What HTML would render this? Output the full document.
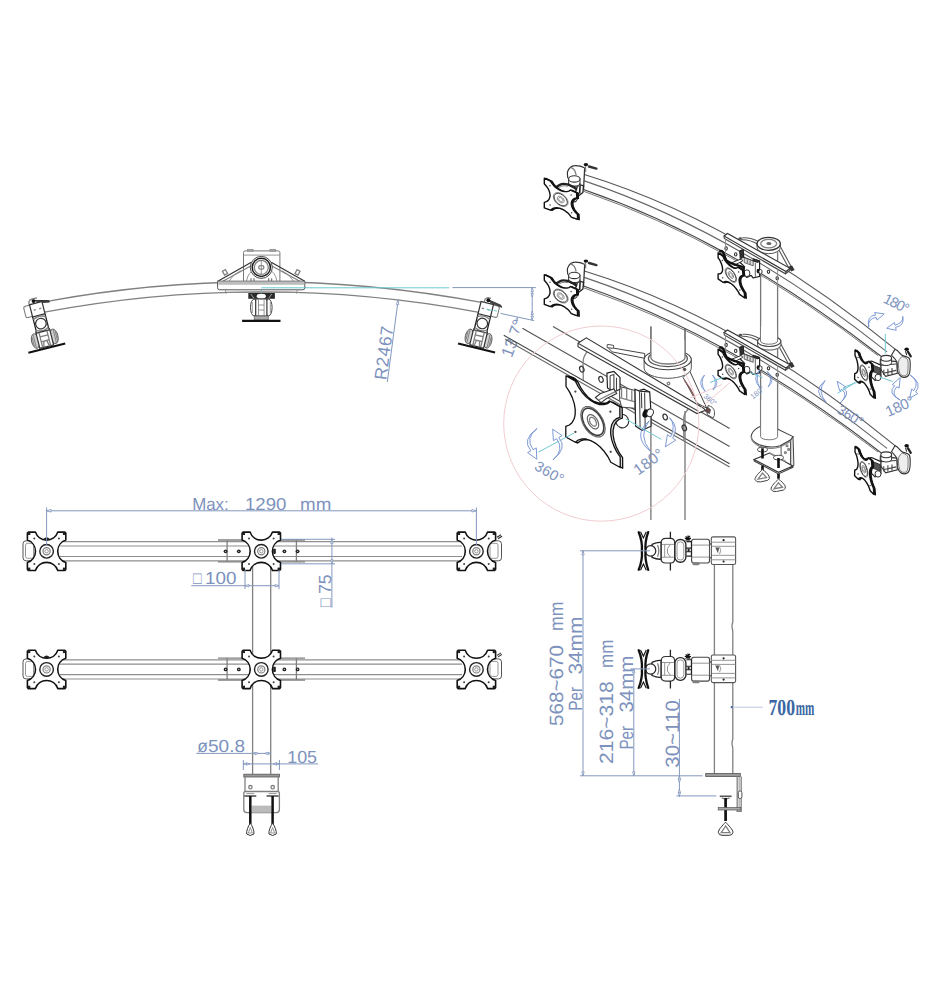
<!DOCTYPE html>
<html lang="en"><head><meta charset="utf-8"><title>Six monitor mount - dimensions</title>
<style>
html,body{margin:0;padding:0;background:#fff}
body{width:939px;height:1000px;overflow:hidden;font-family:"Liberation Sans",sans-serif}
svg{display:block}
text{text-rendering:geometricPrecision}
.k{fill:none;stroke:#2a2a2a;stroke-width:1.1}
.k2{fill:none;stroke:#111;stroke-width:1.6;stroke-linejoin:round}
.kw{fill:#fff;stroke:#111;stroke-width:1.6;stroke-linejoin:round}
.g{fill:none;stroke:#808080;stroke-width:1.3}
.gb{fill:none;stroke:#8e8e8e;stroke-width:1.2}
.gl{fill:none;stroke:#8a8a8a;stroke-width:0.9}
.gw{fill:#fff;stroke:#555;stroke-width:1}
.b{fill:none;stroke:#8497bd;stroke-width:1}
.c{fill:none;stroke:#6fc8d2;stroke-width:1}
.p{fill:none;stroke:#f1cdd1;stroke-width:1}
.ah{fill:#fff;stroke:#7f93bb;stroke-width:0.8}
.dt{fill:#7d92bd;font-family:"Liberation Sans",sans-serif}
.ds{fill:#3a66a3;font-family:"Liberation Serif",serif;font-weight:bold}
.f{fill:#222;stroke:none}
.fg{fill:#bbb;stroke:none}
</style></head>
<body>
<svg width="939" height="1000" viewBox="0 0 939 1000">
<rect width="939" height="1000" fill="#fff"/>
<g>
<g id="front-view">
<line x1="60.0" y1="541.7" x2="462.0" y2="541.7" class="gb"/>
<line x1="60.0" y1="546.0" x2="462.0" y2="546.0" class="gb"/>
<line x1="60.0" y1="556.5" x2="462.0" y2="556.5" class="gb"/>
<line x1="60.0" y1="560.9" x2="462.0" y2="560.9" class="gb"/>
<rect x="23" y="540.8" width="14" height="20" rx="3" class="gw"/>
<rect x="25.5" y="543.3" width="8" height="15" rx="2" class="gl"/>
<rect x="486" y="540.8" width="15.5" height="20" rx="3" class="gw"/>
<rect x="490" y="543.3" width="8" height="15" rx="2" class="gl"/>
<path d="M497,537.3 l4,-2.5 M498,538.8 l4,-2.5" class="k"/>
<line x1="218.0" y1="540.0" x2="305.0" y2="540.0" class="g"/>
<line x1="218.0" y1="561.9" x2="305.0" y2="561.9" class="g"/>
<line x1="227.1" y1="540.0" x2="227.1" y2="561.9" class="g"/>
<line x1="296.4" y1="540.0" x2="296.4" y2="561.9" class="g"/>
<circle cx="225.6" cy="551.3" r="1.9" class="f"/>
<circle cx="225.6" cy="551.3" r="0.6" fill="#ccc"/>
<circle cx="238.8" cy="551.3" r="1.9" class="f"/>
<circle cx="238.8" cy="551.3" r="0.6" fill="#ccc"/>
<circle cx="284.4" cy="551.3" r="1.9" class="f"/>
<circle cx="284.4" cy="551.3" r="0.6" fill="#ccc"/>
<circle cx="297.6" cy="551.3" r="1.9" class="f"/>
<circle cx="297.6" cy="551.3" r="0.6" fill="#ccc"/>
<line x1="60.0" y1="659.8" x2="462.0" y2="659.8" class="gb"/>
<line x1="60.0" y1="664.1" x2="462.0" y2="664.1" class="gb"/>
<line x1="60.0" y1="674.6" x2="462.0" y2="674.6" class="gb"/>
<line x1="60.0" y1="679.0" x2="462.0" y2="679.0" class="gb"/>
<rect x="23" y="658.9" width="14" height="20" rx="3" class="gw"/>
<rect x="25.5" y="661.4" width="8" height="15" rx="2" class="gl"/>
<rect x="486" y="658.9" width="15.5" height="20" rx="3" class="gw"/>
<rect x="490" y="661.4" width="8" height="15" rx="2" class="gl"/>
<path d="M497,655.4 l4,-2.5 M498,656.9 l4,-2.5" class="k"/>
<line x1="218.0" y1="658.1" x2="305.0" y2="658.1" class="g"/>
<line x1="218.0" y1="680.0" x2="305.0" y2="680.0" class="g"/>
<line x1="227.1" y1="658.1" x2="227.1" y2="680.0" class="g"/>
<line x1="296.4" y1="658.1" x2="296.4" y2="680.0" class="g"/>
<circle cx="225.6" cy="669.4" r="1.9" class="f"/>
<circle cx="225.6" cy="669.4" r="0.6" fill="#ccc"/>
<circle cx="238.8" cy="669.4" r="1.9" class="f"/>
<circle cx="238.8" cy="669.4" r="0.6" fill="#ccc"/>
<circle cx="284.4" cy="669.4" r="1.9" class="f"/>
<circle cx="284.4" cy="669.4" r="0.6" fill="#ccc"/>
<circle cx="297.6" cy="669.4" r="1.9" class="f"/>
<circle cx="297.6" cy="669.4" r="0.6" fill="#ccc"/>
<line x1="252.6" y1="565.0" x2="252.6" y2="655.0" class="g"/>
<line x1="270.7" y1="565.0" x2="270.7" y2="655.0" class="g"/>
<line x1="252.6" y1="684.0" x2="252.6" y2="774.0" class="g"/>
<line x1="270.7" y1="684.0" x2="270.7" y2="774.0" class="g"/>
<g transform="translate(46.6,551.3)"><path d="M-19.2,-18.2 L-18.2,-19.2 L-11.2,-19.2 A11.8,11.8 0 0 0 11.2,-19.2 L18.2,-19.2 L19.2,-18.2 L19.2,-11.2 A11.8,11.8 0 0 0 19.2,11.2 L19.2,18.2 L18.2,19.2 L11.2,19.2 A11.8,11.8 0 0 0 -11.2,19.2 L-18.2,19.2 L-19.2,18.2 L-19.2,11.2 A11.8,11.8 0 0 0 -19.2,-11.2 Z" class="kw"/><circle r="6.8" class="k" style="stroke-width:1.4;stroke:#222"/><circle r="3.6" class="g" style="stroke-width:1.2"/><circle r="1.7" class="gl"/><circle cx="-12.3" cy="-12.8" r="1.0" class="f" style="fill:#444"/><rect x="-18.900000000000002" y="-18.900000000000002" width="2.6" height="2.6" class="f"/><circle cx="-12.3" cy="12.8" r="1.0" class="f" style="fill:#444"/><rect x="-18.900000000000002" y="16.3" width="2.6" height="2.6" class="f"/><circle cx="12.3" cy="-12.8" r="1.0" class="f" style="fill:#444"/><rect x="16.3" y="-18.900000000000002" width="2.6" height="2.6" class="f"/><circle cx="12.3" cy="12.8" r="1.0" class="f" style="fill:#444"/><rect x="16.3" y="16.3" width="2.6" height="2.6" class="f"/></g>
<g transform="translate(261.3,551.3)"><path d="M-19.2,-18.2 L-18.2,-19.2 L-11.2,-19.2 A11.8,11.8 0 0 0 11.2,-19.2 L18.2,-19.2 L19.2,-18.2 L19.2,-11.2 A11.8,11.8 0 0 0 19.2,11.2 L19.2,18.2 L18.2,19.2 L11.2,19.2 A11.8,11.8 0 0 0 -11.2,19.2 L-18.2,19.2 L-19.2,18.2 L-19.2,11.2 A11.8,11.8 0 0 0 -19.2,-11.2 Z" class="kw"/><circle r="6.8" class="k" style="stroke-width:1.4;stroke:#222"/><circle r="3.6" class="g" style="stroke-width:1.2"/><circle r="1.7" class="gl"/><circle cx="-12.3" cy="-12.8" r="1.0" class="f" style="fill:#444"/><rect x="-18.900000000000002" y="-18.900000000000002" width="2.6" height="2.6" class="f"/><circle cx="-12.3" cy="12.8" r="1.0" class="f" style="fill:#444"/><rect x="-18.900000000000002" y="16.3" width="2.6" height="2.6" class="f"/><circle cx="12.3" cy="-12.8" r="1.0" class="f" style="fill:#444"/><rect x="16.3" y="-18.900000000000002" width="2.6" height="2.6" class="f"/><circle cx="12.3" cy="12.8" r="1.0" class="f" style="fill:#444"/><rect x="16.3" y="16.3" width="2.6" height="2.6" class="f"/></g>
<g transform="translate(476.4,551.3)"><path d="M-19.2,-18.2 L-18.2,-19.2 L-11.2,-19.2 A11.8,11.8 0 0 0 11.2,-19.2 L18.2,-19.2 L19.2,-18.2 L19.2,-11.2 A11.8,11.8 0 0 0 19.2,11.2 L19.2,18.2 L18.2,19.2 L11.2,19.2 A11.8,11.8 0 0 0 -11.2,19.2 L-18.2,19.2 L-19.2,18.2 L-19.2,11.2 A11.8,11.8 0 0 0 -19.2,-11.2 Z" class="kw"/><circle r="6.8" class="k" style="stroke-width:1.4;stroke:#222"/><circle r="3.6" class="g" style="stroke-width:1.2"/><circle r="1.7" class="gl"/><circle cx="-12.3" cy="-12.8" r="1.0" class="f" style="fill:#444"/><rect x="-18.900000000000002" y="-18.900000000000002" width="2.6" height="2.6" class="f"/><circle cx="-12.3" cy="12.8" r="1.0" class="f" style="fill:#444"/><rect x="-18.900000000000002" y="16.3" width="2.6" height="2.6" class="f"/><circle cx="12.3" cy="-12.8" r="1.0" class="f" style="fill:#444"/><rect x="16.3" y="-18.900000000000002" width="2.6" height="2.6" class="f"/><circle cx="12.3" cy="12.8" r="1.0" class="f" style="fill:#444"/><rect x="16.3" y="16.3" width="2.6" height="2.6" class="f"/></g>
<rect x="273.2" y="548.6999999999999" width="2.6" height="5.2" rx="0.8" class="f"/>
<path d="M43.3,539.0999999999999 q3.3,-3.6 6.6,0 q-3.3,2.2 -6.6,0z" class="f"/>
<g transform="translate(46.6,669.4)"><path d="M-19.2,-18.2 L-18.2,-19.2 L-11.2,-19.2 A11.8,11.8 0 0 0 11.2,-19.2 L18.2,-19.2 L19.2,-18.2 L19.2,-11.2 A11.8,11.8 0 0 0 19.2,11.2 L19.2,18.2 L18.2,19.2 L11.2,19.2 A11.8,11.8 0 0 0 -11.2,19.2 L-18.2,19.2 L-19.2,18.2 L-19.2,11.2 A11.8,11.8 0 0 0 -19.2,-11.2 Z" class="kw"/><circle r="6.8" class="k" style="stroke-width:1.4;stroke:#222"/><circle r="3.6" class="g" style="stroke-width:1.2"/><circle r="1.7" class="gl"/><circle cx="-12.3" cy="-12.8" r="1.0" class="f" style="fill:#444"/><rect x="-18.900000000000002" y="-18.900000000000002" width="2.6" height="2.6" class="f"/><circle cx="-12.3" cy="12.8" r="1.0" class="f" style="fill:#444"/><rect x="-18.900000000000002" y="16.3" width="2.6" height="2.6" class="f"/><circle cx="12.3" cy="-12.8" r="1.0" class="f" style="fill:#444"/><rect x="16.3" y="-18.900000000000002" width="2.6" height="2.6" class="f"/><circle cx="12.3" cy="12.8" r="1.0" class="f" style="fill:#444"/><rect x="16.3" y="16.3" width="2.6" height="2.6" class="f"/></g>
<g transform="translate(261.3,669.4)"><path d="M-19.2,-18.2 L-18.2,-19.2 L-11.2,-19.2 A11.8,11.8 0 0 0 11.2,-19.2 L18.2,-19.2 L19.2,-18.2 L19.2,-11.2 A11.8,11.8 0 0 0 19.2,11.2 L19.2,18.2 L18.2,19.2 L11.2,19.2 A11.8,11.8 0 0 0 -11.2,19.2 L-18.2,19.2 L-19.2,18.2 L-19.2,11.2 A11.8,11.8 0 0 0 -19.2,-11.2 Z" class="kw"/><circle r="6.8" class="k" style="stroke-width:1.4;stroke:#222"/><circle r="3.6" class="g" style="stroke-width:1.2"/><circle r="1.7" class="gl"/><circle cx="-12.3" cy="-12.8" r="1.0" class="f" style="fill:#444"/><rect x="-18.900000000000002" y="-18.900000000000002" width="2.6" height="2.6" class="f"/><circle cx="-12.3" cy="12.8" r="1.0" class="f" style="fill:#444"/><rect x="-18.900000000000002" y="16.3" width="2.6" height="2.6" class="f"/><circle cx="12.3" cy="-12.8" r="1.0" class="f" style="fill:#444"/><rect x="16.3" y="-18.900000000000002" width="2.6" height="2.6" class="f"/><circle cx="12.3" cy="12.8" r="1.0" class="f" style="fill:#444"/><rect x="16.3" y="16.3" width="2.6" height="2.6" class="f"/></g>
<g transform="translate(476.4,669.4)"><path d="M-19.2,-18.2 L-18.2,-19.2 L-11.2,-19.2 A11.8,11.8 0 0 0 11.2,-19.2 L18.2,-19.2 L19.2,-18.2 L19.2,-11.2 A11.8,11.8 0 0 0 19.2,11.2 L19.2,18.2 L18.2,19.2 L11.2,19.2 A11.8,11.8 0 0 0 -11.2,19.2 L-18.2,19.2 L-19.2,18.2 L-19.2,11.2 A11.8,11.8 0 0 0 -19.2,-11.2 Z" class="kw"/><circle r="6.8" class="k" style="stroke-width:1.4;stroke:#222"/><circle r="3.6" class="g" style="stroke-width:1.2"/><circle r="1.7" class="gl"/><circle cx="-12.3" cy="-12.8" r="1.0" class="f" style="fill:#444"/><rect x="-18.900000000000002" y="-18.900000000000002" width="2.6" height="2.6" class="f"/><circle cx="-12.3" cy="12.8" r="1.0" class="f" style="fill:#444"/><rect x="-18.900000000000002" y="16.3" width="2.6" height="2.6" class="f"/><circle cx="12.3" cy="-12.8" r="1.0" class="f" style="fill:#444"/><rect x="16.3" y="-18.900000000000002" width="2.6" height="2.6" class="f"/><circle cx="12.3" cy="12.8" r="1.0" class="f" style="fill:#444"/><rect x="16.3" y="16.3" width="2.6" height="2.6" class="f"/></g>
<rect x="273.2" y="666.8" width="2.6" height="5.2" rx="0.8" class="f"/>
<path d="M43.3,657.1999999999999 q3.3,-3.6 6.6,0 q-3.3,2.2 -6.6,0z" class="f"/>
<rect x="243.8" y="774.2" width="35.6" height="2.8" fill="#999" stroke="#555" stroke-width="0.8"/>
<path d="M245,777 V791.5 M278.2,777 V791.5" class="g"/>
<circle cx="250.4" cy="787.2" r="1.7" class="g"/><circle cx="272.7" cy="787.2" r="1.7" class="g"/>
<path d="M245.5,791.5 H277.7 Q279.4,791.5 279.4,793.5 V809.5 Q279.4,812.6 276.4,812.6 H246.8 Q243.8,812.6 243.8,809.5 V793.5 Q243.8,791.5 245.5,791.5Z" class="g"/>
<rect x="251.5" y="805.6" width="20" height="7" class="fg"/>
<path d="M244.3,796 H256.3" class="k" style="stroke-width:1.3"/>
<path d="M246.3,793.6 H254.3" class="gl"/>
<path d="M250.3,796 V824" stroke="#111" stroke-width="2.5" fill="none"/>
<path d="M250.3,823 C248.3,826 246.10000000000002,831 246.70000000000002,834 Q250.3,837 253.9,834 C254.5,831 252.3,826 250.3,823Z" class="gw" style="stroke:#333"/>
<path d="M250.3,827.5 L248.3,833 H252.3Z" class="gl"/>
<path d="M266.6,796 H278.6" class="k" style="stroke-width:1.3"/>
<path d="M268.6,793.6 H276.6" class="gl"/>
<path d="M272.6,796 V824" stroke="#111" stroke-width="2.5" fill="none"/>
<path d="M272.6,823 C270.6,826 268.40000000000003,831 269.0,834 Q272.6,837 276.20000000000005,834 C276.8,831 274.6,826 272.6,823Z" class="gw" style="stroke:#333"/>
<path d="M272.6,827.5 L270.6,833 H274.6Z" class="gl"/>
<line x1="46.6" y1="510.8" x2="476.4" y2="510.8" class="b"/>
<line x1="46.6" y1="507.5" x2="46.6" y2="546.0" class="b"/>
<line x1="476.4" y1="507.5" x2="476.4" y2="546.0" class="b"/>
<path d="M51.1,509.5 L46.6,510.8 L51.1,512.1Z" class="ah"/>
<path d="M471.9,512.1 L476.4,510.8 L471.9,509.5Z" class="ah"/>
<text font-size="17.3" class="dt" transform="translate(192.2 509.6)"><tspan x="0.0" y="0" textLength="36.5" lengthAdjust="spacingAndGlyphs">Max:</tspan> <tspan x="52.8" y="0" textLength="41.4" lengthAdjust="spacingAndGlyphs">1290</tspan> <tspan x="107.9" y="0" textLength="31.3" lengthAdjust="spacingAndGlyphs">mm</tspan></text>
<line x1="191.3" y1="585.7" x2="279.0" y2="585.7" class="b"/>
<line x1="245.0" y1="570.0" x2="245.0" y2="589.0" class="b"/>
<line x1="279.0" y1="570.0" x2="279.0" y2="589.0" class="b"/>
<path d="M249.0,584.5 L245.0,585.7 L249.0,586.9Z" class="ah"/>
<path d="M275.0,586.9 L279.0,585.7 L275.0,584.5Z" class="ah"/>
<text font-size="17.5" class="dt" transform="translate(192.6 584.4)"><tspan x="0.5" y="0" textLength="8.6" lengthAdjust="spacingAndGlyphs">□</tspan><tspan x="12.5" y="0" textLength="31.4" lengthAdjust="spacingAndGlyphs">100</tspan></text>
<line x1="331.9" y1="537.5" x2="331.9" y2="607.8" class="b"/>
<line x1="281.0" y1="539.3" x2="335.0" y2="539.3" class="b"/>
<line x1="281.0" y1="563.8" x2="335.0" y2="563.8" class="b"/>
<path d="M333.1,543.3 L331.9,539.3 L330.7,543.3Z" class="ah"/>
<path d="M330.7,559.8 L331.9,563.8 L333.1,559.8Z" class="ah"/>
<text font-size="17.5" class="dt" transform="translate(330.6 607.5) rotate(-90)"><tspan x="0.5" y="0" textLength="8.6" lengthAdjust="spacingAndGlyphs">□</tspan><tspan x="13.4" y="0" textLength="19.6" lengthAdjust="spacingAndGlyphs">75</tspan></text>
<line x1="196.3" y1="753.4" x2="270.9" y2="753.4" class="b"/>
<path d="M256.1,752.3 L252.6,753.4 L256.1,754.5Z" class="ah"/>
<path d="M267.2,754.5 L270.7,753.4 L267.2,752.3Z" class="ah"/>
<path d="M255.0,754.5 L258.5,753.4 L255.0,752.3Z" class="ah"/>
<path d="M268.3,752.3 L264.8,753.4 L268.3,754.5Z" class="ah"/>
<text font-size="17.5" class="dt" transform="translate(197.2 752.2)"><tspan x="0.0" y="0">ø</tspan><tspan x="10.8" y="0" textLength="37.0" lengthAdjust="spacingAndGlyphs">50.8</tspan></text>
<line x1="243.3" y1="763.9" x2="318.0" y2="763.9" class="b"/>
<line x1="243.3" y1="760.0" x2="243.3" y2="770.0" class="b"/>
<line x1="279.4" y1="760.0" x2="279.4" y2="770.0" class="b"/>
<path d="M246.8,762.8 L243.3,763.9 L246.8,765.0Z" class="ah"/>
<path d="M275.9,765.0 L279.4,763.9 L275.9,762.8Z" class="ah"/>
<path d="M246.5,765.0 L250.0,763.9 L246.5,762.8Z" class="ah"/>
<path d="M276.5,762.8 L273.0,763.9 L276.5,765.0Z" class="ah"/>
<text font-size="17.5" class="dt" transform="translate(287.2 762.5)"><tspan x="0.0" y="0" textLength="29.8" lengthAdjust="spacingAndGlyphs">105</tspan></text>
</g>
<g id="side-view">
<path d="M714.4,563 V774 M732.8,563 V622 q-1.2,3 -0.6,6 q0.8,3 0.6,6 V739 q-1.2,3 -0.6,6 q0.8,3 0.6,6 V774" class="g"/>
<g transform="translate(0,550.6)"><rect x="711.3" y="-13.7" width="24.3" height="27.6" rx="1.8" class="gw" style="stroke:#555;stroke-width:1.1"/><path d="M711.3,-8.4 H735.6 M711.3,-4.3 H735.6 M711.3,4.7 H735.6 M711.3,9.2 H735.6" class="gl"/><circle cx="723.6" cy="-10.4" r="1.1" class="f"/><circle cx="723.6" cy="10.900" r="1.100" class="f"/><path d="M715.2,-3.2 h4 l-1.200,5.800z" class="f" style="fill:#555"/><path d="M719.5,-3.5 q2.500,3.500 0,7" class="gl"/><rect x="691.6" y="-11.4" width="17.900" height="23.800" rx="2.2" class="gw" style="stroke:#444;stroke-width:1.1"/><path d="M691.6,-5.5 H709.5 M691.600,6.500 H709.500" class="gl"/><rect x="709.5" y="-6.9" width="1.800" height="14.100" class="gw"/><rect x="693" y="12.400" width="6" height="1.500" rx="0.700" class="g"/><path d="M685.6,-14.2 l4.600,4 m-0.200,-4.500 l-4.400,4.700 m-0.800,-2.200 h6.200 m-3,-3 v5.800" class="k" style="stroke-width:1.2;stroke:#111"/><path d="M686.4,-9 h5 v14.500 h-5" class="k" style="stroke:#222"/><path d="M686,-2.500 h5.400 m-5.400,3.600 h5.400" class="k" style="stroke:#222"/><rect x="687.6" y="-1.800" width="2" height="3" class="f"/><path d="M661,-7.200 Q661,-12.200 665.800,-12.200 H670.500 Q674.600,-12.200 674.600,-8 V8.400 Q674.600,12.400 670.500,12.400 H665.800 Q661,12.400 661,7.600Z" class="gw" style="stroke:#333;stroke-width:1.2"/><path d="M662,-6.200 H674.300 M662,6.600 H674.300 M664.700,-6.200 V6.600 M667.500,-2 L670.300,-6 M667.500,2.500 L670.300,6.400 M667.500,-2 V2.500" class="gl"/><rect x="674.9" y="-11.100" width="11" height="22.800" rx="5.300" class="kw" style="stroke-width:1.4;stroke:#2a2a2a"/><rect x="677" y="-8.800" width="6.800" height="18.200" rx="3.300" class="gl"/><path d="M670.4,-18.900 V-12.200 M670.400,12.400 V19.900" class="k" style="stroke-width:1.3;stroke:#222"/><path d="M652,-6.300 Q657,-8.600 661,-8.200 V8.600 Q657,9 652,6.800Z" class="gw" style="stroke:#222;stroke-width:1.3"/><path d="M657.500,-5.500 q2.600,6 0,11.600" class="g"/><circle cx="650.6" cy="0.300" r="5.200" class="kw" style="stroke-width:1.2;stroke:#222"/><path d="M638.7,-18.400 Q642.600,-9 641.900,0.200 Q642.600,9.500 638.700,19.200 M648.200,-18.400 Q644.800,-9 645.500,0.200 Q644.800,9.500 648.200,19.200" fill="none" stroke="#111" stroke-width="2.300" stroke-linecap="round"/><path d="M640.500,-18.800 l2.900,6.200 l2.900,-6.200 M640.500,19.600 l2.900,-6.200 l2.900,6.200" fill="none" stroke="#111" stroke-width="1.100"/></g>
<g transform="translate(0,668.7)"><rect x="711.3" y="-13.7" width="24.3" height="27.6" rx="1.8" class="gw" style="stroke:#555;stroke-width:1.1"/><path d="M711.3,-8.4 H735.6 M711.3,-4.3 H735.6 M711.3,4.7 H735.6 M711.3,9.2 H735.6" class="gl"/><circle cx="723.6" cy="-10.4" r="1.1" class="f"/><circle cx="723.6" cy="10.900" r="1.100" class="f"/><path d="M715.2,-3.2 h4 l-1.200,5.800z" class="f" style="fill:#555"/><path d="M719.5,-3.5 q2.500,3.500 0,7" class="gl"/><rect x="691.6" y="-11.4" width="17.900" height="23.800" rx="2.2" class="gw" style="stroke:#444;stroke-width:1.1"/><path d="M691.6,-5.5 H709.5 M691.600,6.500 H709.500" class="gl"/><rect x="709.5" y="-6.9" width="1.800" height="14.100" class="gw"/><rect x="693" y="12.400" width="6" height="1.500" rx="0.700" class="g"/><path d="M685.6,-14.2 l4.600,4 m-0.200,-4.500 l-4.400,4.700 m-0.800,-2.200 h6.200 m-3,-3 v5.800" class="k" style="stroke-width:1.2;stroke:#111"/><path d="M686.4,-9 h5 v14.500 h-5" class="k" style="stroke:#222"/><path d="M686,-2.500 h5.400 m-5.400,3.600 h5.400" class="k" style="stroke:#222"/><rect x="687.6" y="-1.800" width="2" height="3" class="f"/><path d="M661,-7.200 Q661,-12.200 665.800,-12.200 H670.500 Q674.600,-12.200 674.600,-8 V8.400 Q674.600,12.400 670.500,12.400 H665.800 Q661,12.400 661,7.600Z" class="gw" style="stroke:#333;stroke-width:1.2"/><path d="M662,-6.200 H674.300 M662,6.600 H674.300 M664.700,-6.200 V6.600 M667.500,-2 L670.300,-6 M667.500,2.500 L670.300,6.400 M667.500,-2 V2.500" class="gl"/><rect x="674.9" y="-11.100" width="11" height="22.800" rx="5.300" class="kw" style="stroke-width:1.4;stroke:#2a2a2a"/><rect x="677" y="-8.800" width="6.800" height="18.200" rx="3.300" class="gl"/><path d="M670.4,-18.900 V-12.200 M670.400,12.400 V19.900" class="k" style="stroke-width:1.3;stroke:#222"/><path d="M652,-6.300 Q657,-8.600 661,-8.200 V8.600 Q657,9 652,6.800Z" class="gw" style="stroke:#222;stroke-width:1.3"/><path d="M657.500,-5.500 q2.600,6 0,11.600" class="g"/><circle cx="650.6" cy="0.300" r="5.200" class="kw" style="stroke-width:1.2;stroke:#222"/><path d="M638.7,-18.400 Q642.600,-9 641.900,0.200 Q642.600,9.500 638.700,19.200 M648.200,-18.400 Q644.800,-9 645.500,0.200 Q644.800,9.500 648.200,19.200" fill="none" stroke="#111" stroke-width="2.300" stroke-linecap="round"/><path d="M640.500,-18.800 l2.900,6.200 l2.900,-6.200 M640.500,19.600 l2.900,-6.200 l2.900,6.200" fill="none" stroke="#111" stroke-width="1.100"/></g>
<rect x="705.7" y="773.6" width="34.6" height="3" fill="#9a9a9a" stroke="#555" stroke-width="0.8"/>
<path d="M737.2,776.6 V811.4 H741.2 V776.6" class="g"/><path d="M739.2,777 V811" stroke="#bbb" stroke-width="1.6" fill="none"/>
<rect x="738.3" y="791" width="3.6" height="7.5" rx="1.6" class="gw"/>
<path d="M719.7,796.3 H731.6" stroke="#555" stroke-width="1.6" fill="none"/><path d="M721.7,798 q4,1.6 8,0" class="g"/>
<path d="M725.6,798 V821" stroke="#111" stroke-width="2.7" fill="none"/>
<rect x="718.2" y="807.6" width="22.6" height="2.4" fill="#aaa" stroke="#555" stroke-width="0.7"/>
<path d="M725.6,822.2 C722.5,825.5 718.4,829.5 718.3,832.3 Q718.8,835.3 722,835.3 H729.2 Q732.6,835.3 733,832.3 C732.8,829.5 728.7,825.5 725.6,822.2Z" class="gw" style="stroke:#333"/>
<path d="M725.6,826 L721.2,832.6 H730Z" class="g"/>
<line x1="580.0" y1="550.8" x2="650.0" y2="550.8" class="b"/>
<line x1="583.0" y1="550.8" x2="583.0" y2="775.8" class="b"/>
<path d="M584.2,554.8 L583.0,550.8 L581.8,554.8Z" class="ah"/>
<path d="M581.8,771.8 L583.0,775.8 L584.2,771.8Z" class="ah"/>
<line x1="630.5" y1="668.9" x2="650.0" y2="668.9" class="b"/>
<line x1="633.8" y1="668.9" x2="633.8" y2="775.8" class="b"/>
<path d="M635.0,672.9 L633.8,668.9 L632.6,672.9Z" class="ah"/>
<path d="M632.6,771.8 L633.8,775.8 L635.0,771.8Z" class="ah"/>
<line x1="580.0" y1="775.8" x2="702.7" y2="775.8" class="b"/>
<line x1="679.4" y1="698.8" x2="679.4" y2="797.0" class="b"/>
<line x1="676.4" y1="795.9" x2="716.4" y2="795.9" class="b"/>
<path d="M680.5,779.3 L679.4,775.8 L678.3,779.3Z" class="ah"/>
<path d="M678.3,792.4 L679.4,795.9 L680.5,792.4Z" class="ah"/>
<path d="M678.3,779.0 L679.4,782.5 L680.5,779.0Z" class="ah"/>
<path d="M680.5,792.7 L679.4,789.2 L678.3,792.7Z" class="ah"/>
<text font-size="19.3" class="dt" transform="translate(562.8 725.9) rotate(-90)"><tspan x="0.0" y="0" textLength="80.8" lengthAdjust="spacingAndGlyphs">568~670</tspan> <tspan x="95.0" y="0" textLength="29.5" lengthAdjust="spacingAndGlyphs">mm</tspan></text>
<text font-size="19.3" class="dt" transform="translate(582.2 710.7) rotate(-90)"><tspan x="0.0" y="0" textLength="23.8" lengthAdjust="spacingAndGlyphs">Per</tspan> <tspan x="36.1" y="0" textLength="58.0" lengthAdjust="spacingAndGlyphs">34mm</tspan></text>
<text font-size="19.3" class="dt" transform="translate(613.4 763.9) rotate(-90)"><tspan x="0.0" y="0" textLength="82.7" lengthAdjust="spacingAndGlyphs">216~318</tspan> <tspan x="96.0" y="0" textLength="28.5" lengthAdjust="spacingAndGlyphs">mm</tspan></text>
<text font-size="19.3" class="dt" transform="translate(633.1 749.6) rotate(-90)"><tspan x="0.0" y="0" textLength="23.7" lengthAdjust="spacingAndGlyphs">Per</tspan> <tspan x="37.0" y="0" textLength="57.0" lengthAdjust="spacingAndGlyphs">34mm</tspan></text>
<text font-size="19.3" class="dt" transform="translate(678.7 767.7) rotate(-90)"><tspan x="0.0" y="0" textLength="67.5" lengthAdjust="spacingAndGlyphs">30~110</tspan></text>
<line x1="731.7" y1="707.2" x2="762.8" y2="707.2" class="b" style="stroke:#bcc8e0"/>
<circle cx="731.7" cy="707.2" r="1.1" fill="#3f5f98"/>
<text font-size="23" class="ds" transform="translate(768.4 714.6)"><tspan x="0.0" y="0" textLength="26.6" lengthAdjust="spacingAndGlyphs">700</tspan><tspan x="27.4" y="0" font-size="21" textLength="18.6" lengthAdjust="spacingAndGlyphs">mm</tspan></text>
</g>
<g id="top-view">
<path d="M48.5,301.08 A1190,1190 0 0 1 482.8,302.70" class="g"/>
<path d="M44.5,312.19 A1180,1180 0 0 1 479.0,312.36" class="g"/>
<line x1="261.3" y1="287.8" x2="449.3" y2="287.8" class="c"/>
<line x1="261.3" y1="287.8" x2="261.3" y2="292.4" class="c"/>
<line x1="452.4" y1="287.6" x2="535.8" y2="287.6" class="b"/>
<line x1="532.2" y1="287.6" x2="532.2" y2="320.4" class="b"/>
<line x1="500.5" y1="313.4" x2="534.0" y2="320.6" class="b"/>
<path d="M533.4,291.6 L532.2,287.6 L531.0,291.6Z" class="ah"/>
<path d="M531.0,316.1 L532.2,320.1 L533.4,316.1Z" class="ah"/>
<path d="M531.1,293.5 L532.2,297.0 L533.3,293.5Z" class="ah"/>
<path d="M533.3,314.5 L532.2,311.0 L531.1,314.5Z" class="ah"/>
<path d="M517.7,320.9 L517.5,317.2 L515.6,320.3Z" class="ah"/>
<text font-size="17" class="dt" transform="translate(511.8 358.2) rotate(-70)"><tspan x="0.0" y="0" textLength="38.0" lengthAdjust="spacingAndGlyphs">13.7°</tspan></text>
<line x1="398.2" y1="299.6" x2="387.3" y2="382.0" class="b"/>
<path d="M398.8,304.7 L398.2,299.6 L396.3,304.4Z" class="ah"/>
<text x="386.2" y="380.5" font-size="17.5" class="dt" transform="rotate(-82.5 386.2 380.5)" textLength="54" lengthAdjust="spacing">R2467</text>
<g>
<path d="M243.5,281 V252.5 Q243.5,250.9 245.2,250.9 H278.2 Q279.9,250.9 279.9,252.5 V281" class="gw" style="stroke:#777"/>
<path d="M243.5,255.1 H279.9" class="gl"/>
<rect x="247.6" y="249.4" width="5.4" height="1.8" class="gl"/><rect x="270" y="249.4" width="5.4" height="1.8" class="gl"/>
<path d="M246.5,281 q1.5,-9 9,-12 M276.9,281 q-1.500,-9 -9,-12" class="gl"/>
<rect x="-1.7" y="-2.2" width="3.4" height="4.4" class="g" transform="translate(225.0,272.3) rotate(-29)"/>
<rect x="-1.7" y="-2.2" width="3.4" height="4.4" class="g" transform="translate(297.5,272.3) rotate(29)"/>
<path d="M217.8,281.2 L251.4,262.2 M271.200,262.2 L304.8,281.2" class="k" style="stroke-width:1.2;stroke:#333"/>
<path d="M222.8,281.2 L252.6,265 M270,265 L299.8,281.2" class="g"/>
<path d="M229,281.2 q4,-7 11.5,-10.5 M293.6,281.2 q-4,-7 -11.5,-10.5" class="gl"/>
<circle cx="261.3" cy="267.4" r="11" class="gw" style="stroke:#444"/>
<circle cx="261.3" cy="267.4" r="9.1" class="k" style="stroke-width:1.5;stroke:#1a1a1a"/>
<circle cx="261.3" cy="267.4" r="7.0" class="g"/>
<rect x="258.8" y="265.600" width="5" height="3.600" rx="1.5" class="g"/>
<path d="M261.3,261 V274" class="gl"/>
<path d="M251,281.2 v-3 M254,281.2 v-3 M268.6,281.2 v-3 M271.6,281.2 v-3" class="g"/>
<path d="M217.6,281.2 H304.8 V287.8 Q304.8,289.8 302.8,289.8 H219.6 Q217.6,289.8 217.6,287.8Z" class="gw" style="stroke:#555"/>
<rect x="218.2" y="281.6" width="86" height="3.2" fill="#bdbdbd"/>
<path d="M225.6,289.8 V292.4 H297.1 V289.8" class="gl"/>
<path d="M226.2,292.4 v1.2 M296.5,292.4 v1.2" class="g"/>
<line x1="261.3" y1="287.8" x2="304.8" y2="287.8" class="c"/>
</g>
<g transform="translate(261.3,0)">
<path d="M-13,293 H13.6 V298.8 H-13Z" class="f" style="fill:#2a2a2a"/>
<ellipse cx="0" cy="296.2" rx="4.6" ry="2.4" fill="#fff"/>
<path d="M-10.5,294 l3,4 M10.5,294 l-3,4" stroke="#bbb" stroke-width="0.8"/>
<ellipse cx="-7.2" cy="307.5" rx="3.6" ry="8.4" class="gw" style="stroke:#444"/>
<ellipse cx="7.200" cy="307.5" rx="3.600" ry="8.400" class="gw" style="stroke:#444"/>
<path d="M-9,302 v11 M9,302 v11" class="gl"/>
<path d="M-5.6,299 V316 H5.6 V299Z" class="gw" style="stroke:#333;stroke-width:1.2"/>
<path d="M-2.8,299.5 V316 M2.8,299.5 V316 M-2.8,305 H2.8 M-2.8,310 H2.8" class="gl"/>
<path d="M-7,316 H7 V320 H-7Z" fill="#aaa" stroke="#666" stroke-width="0.8"/>
<path d="M-19.2,320.9 H19.2" stroke="#111" stroke-width="2.2"/>
</g>
<g transform="translate(46.8,348.1) rotate(-14.2)"><path d="M-0.5,-49.3 L13.6,-45.6 L13.9,-44 L2.5,-46.2" fill="#444" stroke="#333" stroke-width="0.9" stroke-linejoin="round"/><path d="M-6.3,-44.5 V-47.8 Q-6,-51.2 -2,-51.4 L2.8,-51 " class="g"/><circle cx="-1.4" cy="-48.8" r="1.9" class="f" style="fill:#111"/><rect x="-12.6" y="-45.8" width="7" height="11.6" rx="2" class="gw" style="stroke:#777"/><rect x="-6.1" y="-46.3" width="12.8" height="12.6" class="gw" style="stroke:#333;stroke-width:1.2"/><path d="M-3.4,-40 h2.2 M2.2,-40 h2.2" class="g"/><path d="M-6.1,-33.7 V-19.5 L-6.800,-17 M6.7,-33.7 V-19.5 L7.400,-17" class="k" style="stroke-width:1.3;stroke:#222"/><path d="M-6,-30.8 Q0.3,-34.6 6.6,-30.8 M-6,-19.8 Q0.3,-16 6.6,-19.8" class="g"/><circle cx="0.3" cy="-25.2" r="5.3" class="kw" style="stroke-width:1.2;stroke:#333"/><ellipse cx="-9.3" cy="-9.6" rx="3.8" ry="7.4" fill="#d0d0d0" stroke="#555" stroke-width="0.9"/><ellipse cx="10" cy="-9.6" rx="3.8" ry="7.4" fill="#d0d0d0" stroke="#555" stroke-width="0.9"/><path d="M-11.600,-14 v9 M-10,-16 v13 M12.300,-14 v9 M10.700,-16 v13" stroke="#777" stroke-width="0.8"/><path d="M-6.800,-17 H7.400 V-1.500 H-6.800Z" class="gw" style="stroke:#333;stroke-width:1.2"/><path d="M-3.800,-17 V-1.500 M4.400,-17 V-1.500 M-3.800,-12.500 H4.400 M-3.800,-7.500 H4.400 M-1.200,-7.500 L-2.600,-1.500 M1.800,-7.500 L3.200,-1.500" class="g"/><path d="M-19,0 H19" stroke="#111" stroke-width="2.1"/></g>
<g transform="translate(476.6,348) rotate(13.7) scale(-1,1)"><rect x="-12.6" y="-45.8" width="7" height="11.6" rx="2" class="gw" style="stroke:#777"/><rect x="-6.1" y="-46.3" width="12.8" height="12.6" class="gw" style="stroke:#333;stroke-width:1.2"/><path d="M-3.4,-40 h2.2 M2.2,-40 h2.2" class="g"/><path d="M-6.1,-33.7 V-19.5 L-6.800,-17 M6.7,-33.7 V-19.5 L7.400,-17" class="k" style="stroke-width:1.3;stroke:#222"/><path d="M-6,-30.8 Q0.3,-34.6 6.6,-30.8 M-6,-19.8 Q0.3,-16 6.6,-19.8" class="g"/><circle cx="0.3" cy="-25.2" r="5.3" class="kw" style="stroke-width:1.2;stroke:#333"/><ellipse cx="-9.3" cy="-9.6" rx="3.8" ry="7.4" fill="#d0d0d0" stroke="#555" stroke-width="0.9"/><ellipse cx="10" cy="-9.6" rx="3.8" ry="7.4" fill="#d0d0d0" stroke="#555" stroke-width="0.9"/><path d="M-11.600,-14 v9 M-10,-16 v13 M12.300,-14 v9 M10.700,-16 v13" stroke="#777" stroke-width="0.8"/><path d="M-6.800,-17 H7.400 V-1.500 H-6.800Z" class="gw" style="stroke:#333;stroke-width:1.2"/><path d="M-3.800,-17 V-1.500 M4.400,-17 V-1.500 M-3.800,-12.500 H4.400 M-3.800,-7.500 H4.400 M-1.200,-7.500 L-2.600,-1.500 M1.800,-7.500 L3.200,-1.500" class="g"/><path d="M-19,0 H19" stroke="#111" stroke-width="2.1"/></g>
<path d="M484.5,302.5 Q484,298.300 488,297.600 L491,298.300" class="g"/>
<path d="M488.4,299.7 L500.8,305.200 L501.800,307.300 L490.500,302.600Z" fill="#444" stroke="#333" stroke-width="0.9" stroke-linejoin="round"/>
<circle cx="488.3" cy="300.200" r="1.900" class="f" style="fill:#111"/>
<path d="M486.5,309.3 l5.5,1.300 M493.8,310.400 l3.2,0.700" class="c"/>
</g>
<g id="iso-view">
<g id="detail">
<path d="M650.9,326.4 V360 M685,326.4 V360" class="g" style="stroke:#777"/>
<path d="M644.7,353.5 L607.7,347.1 L612.1,351.9 L644.7,358.3Z" class="gw" style="stroke:#444"/>
<rect x="-3.3" y="-1.600" width="6.600" height="3.200" rx="1" class="gw" style="stroke:#555" transform="translate(610.4,346.4) rotate(8)"/>
<path d="M689.5,370.5 L706.7,408.2 L697.1,403.1 L683.1,377.5Z" class="gw" style="stroke:#444"/>
<path d="M684.3,380.1 C685.2,381.3 687.8,385.0 689.5,387.7 C691.2,390.5 693.7,395.2 694.6,396.7" stroke="#8a5a5a" stroke-width="1.300" fill="none"/>
<path d="M708,405.500 q5.500,1 6.500,6 q0.500,4.500 -1.500,6.500 l-6,-3.500z" fill="#fff" stroke="#555" stroke-width="1"/>
<path d="M707,407 l3.500,2.500 l-1,4 l-4,-2z" fill="#6b4a4a" stroke="#444" stroke-width="0.800"/>
<path d="M644.1,359.6 v8.500 a23.600,10.200 0 0 0 47.200,0 v-8.500" class="gw" style="stroke:#555"/>
<ellipse cx="667.7" cy="359.6" rx="23.600" ry="10.200" class="gw" style="stroke:#444;stroke-width:1.1"/>
<ellipse cx="667.9" cy="358.6" rx="19.500" ry="8" class="g" style="stroke:#555"/>
<path d="M650.9,340 V357.500 a17.050,6.500 0 0 0 34.100,0 V340Z" fill="#fff" stroke="none"/>
<path d="M650.9,326.4 V357.500 a17.050,6.500 0 0 0 34.100,0 V326.400" class="g" style="stroke:#777"/>
<circle cx="668.5" cy="383.5" r="1.300" class="g"/><circle cx="684.5" cy="369.500" r="1.800" class="f" style="fill:#555"/>
<path d="M553.0,326.4 L729.6,428.6 L729.6,463.7 L503.8,335.3Z" fill="#fff" stroke="none"/>
<path d="M553.0,326.4 L729.6,428.6" class="k" style="stroke:#555"/>
<path d="M522.4,328.3 L729.6,446.5" class="k" style="stroke:#555"/>
<path d="M503.8,335.3 L729.6,463.7" class="k" style="stroke:#444"/>
<path d="M505.1,339.2 L729.6,466.9" class="k" style="stroke:#666"/>
<path d="M650.9,414 V520 M685,411 V520" class="g" style="stroke:#777"/>
<path d="M587.5,351.3 C587.0,352.2 585.1,354.6 584.3,356.4 C583.6,358.2 583.2,358.2 583.1,362.2 C582.9,366.1 583.3,377.1 583.3,380.1" class="g"/>
<path d="M688.1,409.1 C687.5,410.0 685.3,412.5 684.5,414.5 C683.8,416.5 683.7,416.6 683.6,420.9 C683.5,425.2 683.9,436.9 683.9,440.1" class="g"/>
<ellipse cx="581.8" cy="369.2" rx="2.100" ry="3" class="k" style="stroke:#333;stroke-width:1.2" transform="rotate(-20 581.8 369.2)"/>
<ellipse cx="601.0" cy="379.4" rx="2.100" ry="3" class="k" style="stroke:#333;stroke-width:1.2" transform="rotate(-20 601.0 379.4)"/>
<ellipse cx="665.2" cy="417.0" rx="2.100" ry="3" class="k" style="stroke:#333;stroke-width:1.2" transform="rotate(-20 665.2 417.0)"/>
<ellipse cx="684.3" cy="427.9" rx="2.100" ry="3" class="k" style="stroke:#333;stroke-width:1.2" transform="rotate(-20 684.3 427.9)"/>
<path d="M578.0,343.3 L586.3,337.9 L703.5,408.2 L705.5,410.3 L697.0,413.6 L578.0,346.8Z" class="gw" style="stroke:#333;stroke-width:1.1"/>
<path d="M578.0,343.3 L698.5,411.3" class="k" style="stroke:#444"/>
<path d="M619.6,386.6 L635.0,390.4 L635.0,408.3 L621.6,407.1 L619.6,399.4Z" class="gw" style="stroke:#444"/>
<path d="M621.6,386.6 L621.6,397.5" class="g"/>
<path d="M626.7,388.4 L626.7,399.3" class="g"/>
<path d="M631.8,390.2 L631.8,401.1" class="g"/>
<path d="M619.6,397.5 L635.0,401.9" class="g"/>
<path d="M606.9,373.2 L613.9,371.5 L620.0,377.4 L620.0,389.2 L613.9,392.0 L607.5,387.9Z" class="gw" style="stroke:#222;stroke-width:1.2"/>
<path d="M610.1,375.8 L613.9,374.5 L613.9,391.7 M610.1,375.8 L610.1,389.2 M616.5,377.7 L616.5,390.4" class="k" style="stroke:#444"/>
<path d="M635.0,389.2 L639.5,391.1 L649.7,392.0 L651.0,412.2 L651.0,426.2 L642.0,430.3 L635.6,426.2Z" class="gw" style="stroke:#222;stroke-width:1.2"/>
<path d="M639.5,391.1 L640.1,427.5 M644.6,392.4 L645.2,428.1 M641.4,392.4 L641.8,408.3" class="k" style="stroke:#444"/>
<path d="M639.5,390.4 L643.9,389.2 L649.7,392.0" class="k" style="stroke:#222;stroke-width:1.3"/>
<ellipse cx="645.8" cy="413.5" rx="3.200" ry="4.300" class="f" style="fill:#111" transform="rotate(20 645.8 413.5)"/>
<ellipse cx="650.1" cy="412.8" rx="3.200" ry="3.900" class="gw" style="stroke:#333" transform="rotate(20 650.1 412.8)"/>
<path d="M595.4,397.5 L600.5,393.6 L613.9,388.9 L616.7,393.6 L606.2,398.8 L601.1,402.6Z" class="gw" style="stroke:#333;stroke-width:1.1"/>
<path d="M598.6,400.0 L615.2,391.7" class="g"/>
<ellipse cx="622.2" cy="421.1" rx="6.400" ry="6.800" class="gw" style="stroke:#333;stroke-width:1.1" transform="rotate(-25 622.2 421.1)"/>
<path d="M616.5,407.1 C616.9,407.9 618.7,410.3 619.0,412.2 C619.3,414.1 619.1,416.6 618.4,418.6 C617.6,420.5 615.2,422.8 614.5,423.7" class="k" style="stroke:#333"/>
<path d="M566.6,376.4 C568.1,377.0 572.8,377.2 575.6,380.2 C578.3,383.2 580.2,390.7 583.2,394.3 C586.2,397.9 589.8,400.4 593.5,401.9 C597.1,403.5 602.2,404.0 605.0,403.9 C607.7,403.8 609.2,401.7 610.1,401.3" stroke="#111" stroke-width="2.600" fill="none"/>
<path d="M568.4,376.6 L577.8,382.0 L580.7,387.7 L584.4,393.0 L588.5,397.6 L593.0,401.3 L597.6,403.9 L602.1,405.4 L606.3,405.5 L609.9,404.5 L612.8,402.2 L622.2,407.6 L622.3,418.2 L618.8,419.5 L616.0,422.0 L614.1,425.6 L613.1,430.1 L613.1,435.2 L614.2,440.9 L616.2,446.7 L619.0,452.4 L622.6,457.7 L622.7,468.3 L613.2,463.0 L610.2,457.3 L606.5,452.1 L602.3,447.5 L597.7,443.9 L593.1,441.3 L588.6,439.8 L584.4,439.7 L580.7,440.8 L577.7,443.1 L568.2,437.8 L568.2,427.1 L571.8,425.8 L574.6,423.2 L576.6,419.6 L577.6,415.1 L577.6,409.9 L576.6,404.2 L574.7,398.4 L571.9,392.7 L568.4,387.3Z" fill="#ddd" stroke="#111" stroke-width="1.3" stroke-linejoin="round"/><path d="M566.0,375.8 L575.4,381.2 L578.3,386.9 L582.0,392.2 L586.1,396.8 L590.6,400.5 L595.2,403.1 L599.7,404.6 L603.9,404.7 L607.5,403.7 L610.4,401.4 L619.8,406.8 L619.9,417.4 L616.4,418.7 L613.6,421.2 L611.7,424.8 L610.7,429.3 L610.7,434.4 L611.8,440.1 L613.8,445.9 L616.6,451.6 L620.2,456.9 L620.3,467.5 L610.8,462.2 L607.8,456.5 L604.1,451.3 L599.9,446.7 L595.3,443.1 L590.7,440.5 L586.2,439.0 L582.0,438.9 L578.3,440.0 L575.3,442.3 L565.8,437.0 L565.8,426.3 L569.4,425.0 L572.2,422.4 L574.2,418.8 L575.2,414.3 L575.2,409.1 L574.2,403.4 L572.3,397.6 L569.5,391.9 L566.0,386.5Z" fill="#fff" stroke="#111" stroke-width="1.3" stroke-linejoin="round"/><path d="M605.2,428.7 L604.6,432.6 L602.9,435.4 L600.2,436.9 L596.8,436.9 L593.0,435.5 L589.2,432.7 L585.8,428.8 L583.1,424.3 L581.4,419.4 L580.8,414.9 L581.4,410.9 L583.1,408.1 L585.8,406.6 L589.2,406.6 L592.9,408.1 L596.7,410.9 L600.1,414.8 L602.8,419.3 L604.5,424.1Z" class="k" style="stroke:#666;stroke-width:1.2000000000000002"/><path d="M603.8,427.9 L603.3,431.4 L601.8,433.9 L599.4,435.2 L596.4,435.3 L593.0,434.0 L589.6,431.5 L586.6,428.0 L584.2,424.0 L582.7,419.7 L582.1,415.6 L582.7,412.2 L584.2,409.6 L586.6,408.3 L589.6,408.3 L592.9,409.6 L596.3,412.1 L599.3,415.5 L601.7,419.6 L603.3,423.9Z" class="k" style="stroke:#3a3a3a;stroke-width:1.4249999999999998"/><path d="M598.7,425.0 L598.4,426.8 L597.6,428.1 L596.3,428.8 L594.7,428.9 L593.0,428.2 L591.2,426.9 L589.6,425.1 L588.4,422.9 L587.6,420.7 L587.3,418.5 L587.6,416.7 L588.4,415.4 L589.6,414.7 L591.2,414.7 L593.0,415.4 L594.7,416.7 L596.3,418.5 L597.6,420.6 L598.4,422.9Z" class="k" style="stroke:#666;stroke-width:1.2000000000000002"/><path d="M596.5,423.8 L596.3,424.9 L595.8,425.7 L595.1,426.2 L594.1,426.2 L593.0,425.7 L591.9,424.9 L590.9,423.8 L590.1,422.5 L589.6,421.1 L589.5,419.8 L589.6,418.6 L590.1,417.8 L590.9,417.4 L591.9,417.4 L593.0,417.8 L594.1,418.6 L595.0,419.7 L595.8,421.1 L596.3,422.5Z" class="k" style="stroke:#777;stroke-width:1.2000000000000002"/><circle cx="575.4" cy="391.6" r="1.125" class="f" style="fill:#444"/><circle cx="610.4" cy="411.7" r="1.125" class="f" style="fill:#444"/><circle cx="610.7" cy="451.8" r="1.125" class="f" style="fill:#444"/><circle cx="575.4" cy="431.9" r="1.125" class="f" style="fill:#444"/>
</g>
<rect x="760.6" y="262" width="17" height="176" fill="#fff"/>
<path d="M760.6,250 V438 M777.6,250 V438" class="g" style="stroke:#777"/>
<path d="M781.1,445.1 L790.7,439.8 L790.7,467.5 L781.1,460.6Z" class="gw" style="stroke:#555"/>
<path d="M790.7,439.8 L793.0,436.6 L793.9,465.4 L790.7,468.0Z" fill="#e8e8e8" stroke="#444" stroke-width="1"/>
<circle cx="787.0" cy="445.7" r="0.900" class="g"/>
<circle cx="788.6" cy="449.4" r="0.900" class="g"/>
<circle cx="785.4" cy="452.6" r="0.900" class="g"/>
<path d="M754.0,459.5 L769.4,453.1 L792.8,465.9 L778.5,472.3Z" class="gw" style="stroke:#333;stroke-width:1.1"/>
<path d="M754.0,459.5 L754.3,461.1 L778.5,473.9 L792.8,467.3 L792.8,465.9" class="k" style="stroke:#444"/>
<path d="M769.4,452.6 L785.4,461.1" stroke="#999" stroke-width="1.600" fill="none"/>
<path d="M777.9,429.2 L793.0,436.6 L790.7,439.8 L780.1,445.7 Q770.5,448.9 758.8,444.6 Q749.2,439.8 751.8,434.0 Q754.5,428.1 761.9,426.0Z" class="gw" style="stroke:#444;stroke-width:1.1"/>
<path d="M751.6,436.1 Q750.2,441.4 758.8,446.0 Q770.5,450.3 780.1,447.0 L790.7,441.1" class="g"/>
<path d="M760.6,400 V436.6 a8.500,3.200 0 0 0 17,0 V400" fill="#fff" stroke="#777" stroke-width="1"/>
<ellipse cx="762.5" cy="449.6" rx="5" ry="2.300" class="gw" style="stroke:#444"/>
<path d="M762.5,448.3 V458.5 M762.5,465.4 V470.7" stroke="#111" stroke-width="2.600" fill="none"/>
<path d="M762.5,469.6 C759.5,472.1 755.0,476.6 755.0,479.6 Q756.0,482.6 760.5,481.9 L767.5,480.4 Q770.5,479.1 769.0,476.1 C767.5,473.6 765.0,471.1 762.5,469.6Z" class="gw" style="stroke:#444"/>
<path d="M762.5,473.1 L758.0,479.1 L766.5,477.6Z" class="g"/>
<ellipse cx="778.5" cy="457.6" rx="5" ry="2.300" class="gw" style="stroke:#444"/>
<path d="M778.5,457.9 V468.0 M778.5,473.9 V478.7" stroke="#111" stroke-width="2.600" fill="none"/>
<path d="M778.5,479.2 C775.5,481.7 771.0,486.2 771.0,489.2 Q772.0,492.2 776.5,491.5 L783.5,490.0 Q786.5,488.7 785.0,485.7 C783.5,483.2 781.0,480.7 778.5,479.2Z" class="gw" style="stroke:#444"/>
<path d="M778.5,482.7 L774.0,488.7 L782.5,487.2Z" class="g"/>
<g transform="translate(0,96.5)"><path d="M741.5,239.8 Q750,239.500 757.8,244.300 M742.500,237.800 Q751,237.300 758.800,241.800" class="k" style="stroke:#555"/><path d="M777.5,247.3 L789.6,269.5 M780,246 L792,268" class="k" style="stroke:#555"/><ellipse cx="740.4" cy="238.6" rx="2" ry="1.4" class="f" style="fill:#555"/><path d="M788.6,266.5 l3.5,-1 l2.500,4.500 l-3.500,1.500z" class="f" style="fill:#333"/><path d="M757.5,244.8 v3.600 a11.700,5.200 0 0 0 23.400,0 v-3.600" class="gw" style="stroke:#555"/><ellipse cx="769.2" cy="244.8" rx="11.7" ry="5.2" class="gw" style="stroke:#444;stroke-width:1.1"/><path d="M760.5,238 V244.500 a8.550,3.200 0 0 0 17.100,0 V238" class="gw" style="stroke:#777"/><rect x="761.1" y="230" width="15.900" height="13" fill="#fff"/><path d="M584.3,174.47 Q740.1,222.19 896.0,349.88 L881,356.2  Q732.2,240.75 583.5,189.56Z" fill="#fff" stroke="none"/><path d="M584.3,174.47 Q740.1,222.19 896.0,349.88" class="k" style="stroke:#555"/><path d="M584.3,180.88 Q735.6,231.50 887.0,351.84" class="k" style="stroke:#666"/><path d="M583.5,189.56 Q732.2,240.75 881.0,356.20" class="k" style="stroke:#444;stroke-width:1.1"/><path d="M583.5,191.26 Q730.8,241.94 878.0,355.58" class="k" style="stroke:#777;stroke-width:1"/><path d="M724,236 L727.5,233.500 L790,268.300 L786,271.500 Z" class="gw" style="stroke:#333;stroke-width:1.1"/><path d="M724,236 L724.300,238.500 L785.500,273.800 L786,271.500 M785.500,273.800 L789.800,270.500 L790,268.300" class="k" style="stroke:#444"/><ellipse cx="726.1" cy="248.5" rx="1.2" ry="1.600" class="g" style="stroke:#333;stroke-width:1.1"/><ellipse cx="735.7" cy="254.4" rx="1.2" ry="1.600" class="g" style="stroke:#333;stroke-width:1.1"/><ellipse cx="768.5" cy="271.8" rx="1.2" ry="1.600" class="g" style="stroke:#333;stroke-width:1.1"/><ellipse cx="777.2" cy="278.3" rx="1.2" ry="1.600" class="g" style="stroke:#333;stroke-width:1.1"/><path d="M725.5,238.500 V256.500 M777.600,268.500 V287" class="gl"/><path d="M567.8,178.2 C567.8,177.2 567.1,173.7 567.5,171.8 C568.0,170.0 569.2,168.3 570.5,167.2 C571.7,166.2 573.4,165.7 575.0,165.6 C576.5,165.4 578.4,165.8 580.1,166.2 C581.7,166.6 583.9,167.7 584.7,168.0" class="k" style="stroke:#333;stroke-width:1.2"/><path d="M570.9,167.2 C571.4,167.7 573.4,168.6 574.3,169.9 C575.2,171.2 575.9,174.2 576.2,175.0" class="g"/><path d="M584.7,168.0 L583.5,189.7" class="k" style="stroke:#333;stroke-width:1.3"/><ellipse cx="585.9" cy="164.6" rx="2.3" ry="1.700" class="f" style="fill:#111"/><path d="M589.0,166.5 L596.4,168.6" stroke="#333" stroke-width="2.400" stroke-linecap="round" fill="none"/><path d="M585.4,166.1 L585.7,171.8" class="g"/><path d="M578.1,184.0 L583.5,185.9 L582.9,192.5 L577.8,196.4 L575.0,193.6Z" fill="#fff" stroke="#222" stroke-width="1.300" stroke-linejoin="round"/><path d="M580.1,185.3 L579.6,193.6" class="k" style="stroke:#222;stroke-width:1.6"/><ellipse cx="575.2" cy="198.0" rx="2.600" ry="4" class="gw" style="stroke:#333" transform="rotate(25 575.2 198.0)"/><path d="M568.6,178.4 v5.500 a5.700,3.200 0 0 0 11.400,0 v-5.500" class="gw" style="stroke:#333"/><path d="M568.6,182.9 a5.700,3.200 0 0 0 11.400,0" class="k" style="stroke:#333"/><ellipse cx="574.3" cy="178.9" rx="5.700" ry="3.200" class="gw" style="stroke:#333;stroke-width:1.1"/><path d="M556.4,186.9 C557.3,186.4 559.7,184.5 561.5,184.1 C563.4,183.7 565.5,183.9 567.5,184.4 C569.6,184.9 572.1,186.3 573.7,187.2 C575.2,188.1 576.3,189.3 576.9,189.7" stroke="#222" stroke-width="2.200" fill="none"/><path d="M558.3,187.8 C559.1,187.5 561.2,186.2 562.8,185.9 C564.4,185.6 567.1,186.1 567.9,186.2" stroke="#777" stroke-width="1" fill="none"/><path d="M545.9,178.5 L552.0,181.3 L553.7,183.9 L555.7,186.4 L558.2,188.5 L560.8,190.1 L563.5,191.3 L566.1,191.9 L568.5,191.9 L570.5,191.4 L572.1,190.3 L578.2,193.1 L578.4,198.2 L576.3,198.6 L574.6,199.6 L573.5,201.1 L572.9,203.0 L573.0,205.2 L573.7,207.7 L575.0,210.1 L576.8,212.5 L579.0,214.6 L579.2,219.7 L572.9,217.5 L571.2,215.1 L569.0,212.9 L566.5,211.0 L563.8,209.5 L561.1,208.5 L558.4,208.1 L556.0,208.3 L553.9,209.0 L552.2,210.4 L545.9,208.2 L545.9,202.6 L548.1,201.9 L549.8,200.7 L551.0,198.9 L551.6,196.8 L551.6,194.4 L551.0,191.8 L549.8,189.1 L548.0,186.5 L545.9,184.1Z" fill="#222" stroke="#111" stroke-width="1.4" stroke-linejoin="round"/><path d="M544.3,178.2 L550.4,181.0 L552.1,183.6 L554.1,186.1 L556.6,188.2 L559.2,189.8 L561.9,191.0 L564.5,191.6 L566.9,191.6 L568.9,191.1 L570.5,190.0 L576.6,192.8 L576.8,197.9 L574.7,198.3 L573.0,199.3 L571.9,200.8 L571.3,202.7 L571.4,204.9 L572.1,207.4 L573.4,209.8 L575.2,212.2 L577.4,214.3 L577.6,219.4 L571.3,217.2 L569.6,214.8 L567.4,212.6 L564.9,210.7 L562.2,209.2 L559.5,208.2 L556.8,207.8 L554.4,208.0 L552.3,208.7 L550.6,210.1 L544.3,207.9 L544.3,202.3 L546.5,201.6 L548.2,200.4 L549.4,198.6 L550.0,196.5 L550.0,194.1 L549.4,191.5 L548.2,188.8 L546.4,186.2 L544.3,183.8Z" fill="#fff" stroke="#111" stroke-width="1.4" stroke-linejoin="round"/><path d="M568.1,202.5 L567.8,204.3 L566.8,205.6 L565.2,206.4 L563.1,206.5 L560.8,205.9 L558.5,204.7 L556.4,203.0 L554.8,201.0 L553.7,198.8 L553.3,196.6 L553.7,194.8 L554.7,193.4 L556.3,192.7 L558.3,192.6 L560.6,193.2 L562.9,194.5 L564.9,196.3 L566.6,198.3 L567.7,200.5Z" class="k" style="stroke:#666;stroke-width:0.8"/><path d="M567.3,202.2 L567.0,203.8 L566.1,204.9 L564.7,205.6 L562.8,205.7 L560.8,205.2 L558.8,204.2 L556.9,202.7 L555.4,200.8 L554.5,198.9 L554.1,197.0 L554.4,195.3 L555.4,194.1 L556.8,193.4 L558.6,193.4 L560.6,193.9 L562.6,195.1 L564.5,196.6 L565.9,198.4 L566.9,200.4Z" class="k" style="stroke:#3a3a3a;stroke-width:0.95"/><path d="M564.1,200.9 L564.0,201.8 L563.5,202.4 L562.8,202.8 L561.8,202.8 L560.8,202.5 L559.7,202.0 L558.7,201.2 L557.9,200.2 L557.4,199.2 L557.3,198.2 L557.4,197.3 L557.9,196.7 L558.6,196.4 L559.6,196.3 L560.6,196.6 L561.7,197.2 L562.7,198.0 L563.5,199.0 L564.0,200.0Z" class="k" style="stroke:#666;stroke-width:0.8"/><path d="M562.8,200.4 L562.7,200.9 L562.4,201.3 L562.0,201.5 L561.4,201.6 L560.7,201.4 L560.1,201.1 L559.5,200.6 L559.0,200.0 L558.7,199.3 L558.6,198.7 L558.7,198.2 L559.0,197.8 L559.4,197.6 L560.0,197.6 L560.7,197.7 L561.3,198.1 L561.9,198.6 L562.4,199.2 L562.7,199.8Z" class="k" style="stroke:#777;stroke-width:0.8"/><circle cx="550.0" cy="185.7" r="0.75" class="f" style="fill:#444"/><circle cx="571.1" cy="194.9" r="0.75" class="f" style="fill:#444"/><circle cx="571.6" cy="212.8" r="0.75" class="f" style="fill:#444"/><circle cx="550.1" cy="205.0" r="0.75" class="f" style="fill:#444"/><path d="M739.9,250.9 L743.1,249.8 L743.7,257.3 L753.2,261.0 L753.2,258.9 L759.6,261.0 L759.6,276.4 L753.2,278.0 L751.1,275.4 L746.9,277.5 L742.6,273.2 L744.7,266.9 L740.5,262.6Z" fill="#fff" stroke="#222" stroke-width="1.2" stroke-linejoin="round"/><path d="M739.9,250.9 L743.1,249.8 L743.7,257.3 L741.0,258.3Z" fill="#333" stroke="#222" stroke-width="1"/><path d="M753.2,261.0 L755.4,259.6 L759.6,261.0 L758.0,262.4Z" fill="#333" stroke="#222" stroke-width="1"/><path d="M744.2,257.8 L744.2,262.6 L753.2,265.8 L753.2,261.0Z" fill="#ddd" stroke="#444" stroke-width="0.8"/><path d="M747.4,259.6 L747.4,263.7 M750.1,260.7 L750.1,264.7 M755.4,262.6 L755.4,277.0" class="g"/><ellipse cx="758.4" cy="271.1" rx="1.800" ry="2.400" class="f" style="fill:#111"/><ellipse cx="760.5" cy="271.7" rx="1.600" ry="2.200" class="gw" style="stroke:#333"/><path d="M731.9,262.6 L741.5,258.9 L742.6,261.0 L734.1,265.3Z" class="gw" style="stroke:#333"/><ellipse cx="746.9" cy="273.2" rx="3" ry="3.400" class="gw" style="stroke:#333"/><path d="M719.2,250.9 C719.8,251.1 721.7,250.4 722.9,251.9 C724.1,253.5 724.6,258.3 726.6,260.5 C728.7,262.6 732.5,263.7 735.1,264.7 C737.8,265.8 741.2,266.0 742.6,266.9 C744.0,267.7 743.5,269.5 743.7,270.1" stroke="#111" stroke-width="2.400" fill="none"/><path d="M719.7,253.1 L724.4,256.4 L725.6,259.1 L727.2,261.6 L729.1,263.9 L731.1,265.8 L733.2,267.3 L735.1,268.3 L736.9,268.6 L738.4,268.3 L739.5,267.4 L744.2,270.7 L744.6,275.9 L743.1,276.1 L741.9,276.9 L741.1,278.3 L740.7,280.2 L740.9,282.4 L741.5,285.0 L742.6,287.7 L744.1,290.4 L745.9,293.1 L746.3,298.3 L741.2,294.7 L739.8,291.9 L738.0,289.3 L736.0,286.9 L733.9,284.8 L731.7,283.3 L729.6,282.3 L727.7,281.8 L726.1,282.0 L724.8,282.8 L719.7,279.2 L719.7,274.2 L721.4,274.2 L722.8,273.5 L723.7,272.2 L724.2,270.4 L724.1,268.3 L723.6,265.8 L722.7,263.2 L721.4,260.5 L719.7,258.1Z" fill="#222" stroke="#111" stroke-width="1.4" stroke-linejoin="round"/><path d="M718.1,252.8 L722.8,256.1 L724.0,258.8 L725.6,261.3 L727.5,263.6 L729.5,265.5 L731.6,267.0 L733.5,268.0 L735.3,268.3 L736.8,268.0 L737.9,267.1 L742.6,270.4 L743.0,275.6 L741.5,275.8 L740.3,276.6 L739.5,278.0 L739.1,279.9 L739.3,282.1 L739.9,284.7 L741.0,287.4 L742.5,290.1 L744.3,292.8 L744.7,298.0 L739.6,294.4 L738.2,291.6 L736.4,289.0 L734.4,286.6 L732.3,284.5 L730.1,283.0 L728.0,282.0 L726.1,281.5 L724.5,281.7 L723.2,282.5 L718.1,278.9 L718.1,273.9 L719.8,273.9 L721.2,273.2 L722.1,271.9 L722.6,270.1 L722.5,268.0 L722.0,265.5 L721.1,262.9 L719.8,260.2 L718.1,257.8Z" fill="#fff" stroke="#111" stroke-width="1.4" stroke-linejoin="round"/><path d="M736.6,279.2 L736.4,280.8 L735.7,282.0 L734.5,282.4 L732.9,282.1 L731.1,281.1 L729.3,279.5 L727.6,277.4 L726.3,275.2 L725.4,272.9 L725.1,270.9 L725.4,269.3 L726.1,268.2 L727.4,267.7 L728.9,268.0 L730.6,269.0 L732.4,270.5 L734.0,272.5 L735.3,274.8 L736.2,277.1Z" class="k" style="stroke:#666;stroke-width:0.8"/><path d="M736.0,278.7 L735.8,280.2 L735.2,281.2 L734.1,281.6 L732.7,281.3 L731.1,280.4 L729.5,279.0 L728.0,277.2 L726.8,275.2 L726.1,273.2 L725.8,271.4 L726.0,269.9 L726.7,268.9 L727.7,268.6 L729.1,268.8 L730.7,269.7 L732.2,271.0 L733.7,272.8 L734.8,274.8 L735.6,276.8Z" class="k" style="stroke:#3a3a3a;stroke-width:0.95"/><path d="M733.6,277.0 L733.5,277.7 L733.1,278.2 L732.6,278.4 L731.8,278.3 L731.0,277.8 L730.1,277.1 L729.4,276.2 L728.8,275.1 L728.4,274.1 L728.2,273.1 L728.3,272.3 L728.7,271.8 L729.2,271.6 L729.9,271.8 L730.8,272.2 L731.6,272.9 L732.4,273.9 L733.0,274.9 L733.4,276.0Z" class="k" style="stroke:#666;stroke-width:0.8"/><path d="M732.5,276.2 L732.5,276.7 L732.3,277.0 L731.9,277.1 L731.5,277.1 L730.9,276.8 L730.4,276.3 L729.9,275.7 L729.6,275.1 L729.3,274.4 L729.2,273.8 L729.3,273.4 L729.5,273.0 L729.8,272.9 L730.3,273.0 L730.8,273.3 L731.3,273.7 L731.8,274.3 L732.2,275.0 L732.4,275.6Z" class="k" style="stroke:#777;stroke-width:0.8"/><circle cx="722.4" cy="260.4" r="0.75" class="f" style="fill:#444"/><circle cx="738.6" cy="272.0" r="0.75" class="f" style="fill:#444"/><circle cx="739.8" cy="290.0" r="0.75" class="f" style="fill:#444"/><circle cx="722.7" cy="277.8" r="0.75" class="f" style="fill:#444"/><path d="M895.0,349.3 C895.4,349.5 896.1,349.5 897.3,350.5 C898.5,351.5 900.0,353.9 902.0,355.2 C904.0,356.5 907.7,356.5 909.0,358.1 C910.4,359.8 910.2,362.4 910.2,365.1 C910.2,367.9 910.0,372.5 909.0,374.5 C908.1,376.6 905.9,377.3 904.3,377.4 C902.8,377.5 900.8,376.4 899.7,375.1 C898.5,373.8 897.8,372.1 897.3,369.8 C896.8,367.6 897.7,364.1 896.7,361.6 C895.8,359.2 892.3,356.3 891.5,355.2Z" class="gw" style="stroke:#333;stroke-width:1.1"/><path d="M902.0,356.4 C902.9,356.8 906.3,357.6 907.3,359.3 C908.3,360.9 908.1,363.9 908.1,366.3 C908.1,368.8 908.0,372.3 907.3,373.9 C906.6,375.5 904.9,375.9 903.8,375.9 C902.6,375.9 901.1,375.1 900.2,373.9 C899.4,372.7 899.0,370.8 898.7,368.7 C898.5,366.5 898.2,363.1 898.7,361.0 C899.3,359.0 901.5,357.1 902.0,356.4" fill="#eee" stroke="#666" stroke-width="0.9"/><ellipse cx="906.7" cy="349.3" rx="2.300" ry="1.800" class="f" style="fill:#111"/><path d="M907.9,351.7 L910.8,356.4" stroke="#222" stroke-width="2.200" stroke-linecap="round" fill="none"/><path d="M905.5,351.1 L906.7,355.2" class="k"/><path d="M880.3,359.9 L880.3,368.7 L885.6,376.3 L897.3,373.3 L896.7,361.6Z" class="gw" style="stroke:#333;stroke-width:1.1"/><path d="M880.9,365.1 L896.1,364.0 M883.8,369.8 L883.8,375.1 M887.9,368.7 L887.9,375.1 M892.0,368.1 L892.0,374.3 M883.3,373.3 L896.1,370.4" class="k" style="stroke:#444"/><path d="M880.8,358.7 v4 a5.400,2.800 0 0 0 10.800,0 v-4" class="gw" style="stroke:#333"/><ellipse cx="886.2" cy="358.3" rx="5.400" ry="2.900" class="gw" style="stroke:#333;stroke-width:1.1"/><path d="M865.7,362.2 L871.5,361.0 L880.9,365.1 L880.9,376.9 L875.1,380.4 L871.5,376.9 L871.5,365.1Z" fill="#fff" stroke="#222" stroke-width="1.2" stroke-linejoin="round"/><path d="M872.7,365.1 L880.3,368.1 L880.3,374.5 L872.7,371.6Z" fill="#555" stroke="#222" stroke-width="0.8"/><ellipse cx="878.0" cy="377.4" rx="3" ry="3.200" class="gw" style="stroke:#333"/><path d="M855.1,350.5 C855.7,351.0 857.5,351.6 858.7,353.4 C859.8,355.3 860.8,359.9 862.2,361.6 C863.5,363.4 865.3,363.6 866.9,364.0 C868.4,364.4 870.8,364.0 871.5,364.0" stroke="#111" stroke-width="2.400" fill="none"/><path d="M856.6,350.4 L859.7,353.1 L860.5,355.8 L861.6,358.3 L862.9,360.6 L864.3,362.3 L865.7,363.6 L867.0,364.2 L868.2,364.1 L869.2,363.3 L869.9,361.8 L873.0,364.5 L873.5,370.9 L872.4,371.6 L871.7,373.0 L871.2,374.8 L871.0,377.2 L871.2,380.0 L871.7,382.9 L872.5,386.0 L873.6,389.1 L874.9,392.0 L875.4,398.4 L871.7,394.8 L870.7,391.7 L869.4,388.9 L867.9,386.3 L866.4,384.3 L864.8,382.8 L863.3,381.9 L861.9,381.7 L860.7,382.2 L859.8,383.3 L856.1,379.7 L856.2,374.1 L857.4,373.8 L858.4,372.9 L859.1,371.3 L859.5,369.2 L859.5,366.7 L859.1,363.9 L858.5,361.1 L857.6,358.4 L856.5,356.0Z" fill="#222" stroke="#111" stroke-width="1.4" stroke-linejoin="round"/><path d="M855.1,349.9 L858.2,352.6 L859.0,355.3 L860.1,357.8 L861.4,360.1 L862.8,361.8 L864.2,363.1 L865.5,363.7 L866.7,363.6 L867.7,362.8 L868.4,361.3 L871.5,364.0 L872.0,370.4 L870.9,371.1 L870.2,372.5 L869.7,374.3 L869.5,376.7 L869.7,379.5 L870.2,382.4 L871.0,385.5 L872.1,388.6 L873.4,391.5 L873.9,397.9 L870.2,394.3 L869.2,391.2 L867.9,388.4 L866.4,385.8 L864.9,383.8 L863.3,382.3 L861.8,381.4 L860.4,381.2 L859.2,381.7 L858.3,382.8 L854.6,379.2 L854.7,373.6 L855.9,373.3 L856.9,372.4 L857.6,370.8 L858.0,368.7 L858.0,366.2 L857.6,363.4 L857.0,360.6 L856.1,357.9 L855.0,355.5Z" fill="#fff" stroke="#111" stroke-width="1.4" stroke-linejoin="round"/><path d="M867.8,376.4 L867.7,378.5 L867.2,380.0 L866.4,380.8 L865.3,380.7 L864.0,379.9 L862.7,378.3 L861.5,376.2 L860.6,373.8 L860.0,371.4 L859.8,369.1 L859.9,367.1 L860.5,365.7 L861.3,364.9 L862.4,364.9 L863.6,365.6 L864.8,367.1 L865.9,369.1 L866.8,371.4 L867.5,374.0Z" class="k" style="stroke:#666;stroke-width:0.8"/><path d="M867.3,376.0 L867.3,377.9 L866.8,379.2 L866.1,379.9 L865.1,379.8 L864.0,379.1 L862.8,377.7 L861.8,375.8 L860.9,373.7 L860.4,371.5 L860.2,369.5 L860.4,367.7 L860.8,366.5 L861.6,365.8 L862.5,365.8 L863.6,366.4 L864.7,367.7 L865.7,369.5 L866.5,371.6 L867.1,373.9Z" class="k" style="stroke:#3a3a3a;stroke-width:0.95"/><path d="M865.6,374.5 L865.6,375.4 L865.4,376.1 L865.0,376.5 L864.5,376.5 L863.9,376.1 L863.3,375.4 L862.7,374.4 L862.3,373.3 L862.0,372.1 L861.9,371.0 L862.0,370.1 L862.2,369.4 L862.6,369.1 L863.1,369.1 L863.7,369.4 L864.2,370.1 L864.8,371.1 L865.2,372.2 L865.5,373.3Z" class="k" style="stroke:#666;stroke-width:0.8"/><path d="M864.9,373.8 L864.9,374.4 L864.8,374.8 L864.5,375.0 L864.2,375.0 L863.8,374.8 L863.5,374.4 L863.1,373.8 L862.9,373.1 L862.7,372.4 L862.6,371.7 L862.7,371.1 L862.8,370.7 L863.0,370.5 L863.4,370.5 L863.7,370.7 L864.1,371.1 L864.4,371.7 L864.7,372.4 L864.9,373.1Z" class="k" style="stroke:#777;stroke-width:0.8"/><circle cx="858.0" cy="357.5" r="0.75" class="f" style="fill:#444"/><circle cx="869.0" cy="367.2" r="0.75" class="f" style="fill:#444"/><circle cx="870.2" cy="389.0" r="0.75" class="f" style="fill:#444"/><circle cx="858.0" cy="377.4" r="0.75" class="f" style="fill:#444"/></g>
<g transform="translate(0,0)"><path d="M741.5,239.8 Q750,239.500 757.8,244.300 M742.500,237.800 Q751,237.300 758.800,241.800" class="k" style="stroke:#555"/><path d="M777.5,247.3 L789.6,269.5 M780,246 L792,268" class="k" style="stroke:#555"/><ellipse cx="740.4" cy="238.6" rx="2" ry="1.4" class="f" style="fill:#555"/><path d="M788.6,266.5 l3.5,-1 l2.500,4.500 l-3.500,1.500z" class="f" style="fill:#333"/><path d="M757,243.8 v3.400 a11.700,6.500 0 0 0 23.400,0 v-3.400" class="gw" style="stroke:#555"/><ellipse cx="768.7" cy="243.8" rx="11.7" ry="6.5" class="kw" style="stroke:#333;stroke-width:1.3"/><ellipse cx="768.7" cy="243.6" rx="8" ry="4.3" class="g"/><ellipse cx="768.9" cy="243.6" rx="2.6" ry="1.500" class="f" style="fill:#666"/><path d="M584.3,174.47 Q740.1,222.19 896.0,349.88 L881,356.2  Q732.2,240.75 583.5,189.56Z" fill="#fff" stroke="none"/><path d="M584.3,174.47 Q740.1,222.19 896.0,349.88" class="k" style="stroke:#555"/><path d="M584.3,180.88 Q735.6,231.50 887.0,351.84" class="k" style="stroke:#666"/><path d="M583.5,189.56 Q732.2,240.75 881.0,356.20" class="k" style="stroke:#444;stroke-width:1.1"/><path d="M583.5,191.26 Q730.8,241.94 878.0,355.58" class="k" style="stroke:#777;stroke-width:1"/><path d="M724,236 L727.5,233.500 L790,268.300 L786,271.500 Z" class="gw" style="stroke:#333;stroke-width:1.1"/><path d="M724,236 L724.300,238.500 L785.500,273.800 L786,271.500 M785.500,273.800 L789.800,270.500 L790,268.300" class="k" style="stroke:#444"/><ellipse cx="726.1" cy="248.5" rx="1.2" ry="1.600" class="g" style="stroke:#333;stroke-width:1.1"/><ellipse cx="735.7" cy="254.4" rx="1.2" ry="1.600" class="g" style="stroke:#333;stroke-width:1.1"/><ellipse cx="768.5" cy="271.8" rx="1.2" ry="1.600" class="g" style="stroke:#333;stroke-width:1.1"/><ellipse cx="777.2" cy="278.3" rx="1.2" ry="1.600" class="g" style="stroke:#333;stroke-width:1.1"/><path d="M725.5,238.500 V256.500 M777.600,268.500 V287" class="gl"/><path d="M567.8,178.2 C567.8,177.2 567.1,173.7 567.5,171.8 C568.0,170.0 569.2,168.3 570.5,167.2 C571.7,166.2 573.4,165.7 575.0,165.6 C576.5,165.4 578.4,165.8 580.1,166.2 C581.7,166.6 583.9,167.7 584.7,168.0" class="k" style="stroke:#333;stroke-width:1.2"/><path d="M570.9,167.2 C571.4,167.7 573.4,168.6 574.3,169.9 C575.2,171.2 575.9,174.2 576.2,175.0" class="g"/><path d="M584.7,168.0 L583.5,189.7" class="k" style="stroke:#333;stroke-width:1.3"/><ellipse cx="585.9" cy="164.6" rx="2.3" ry="1.700" class="f" style="fill:#111"/><path d="M589.0,166.5 L596.4,168.6" stroke="#333" stroke-width="2.400" stroke-linecap="round" fill="none"/><path d="M585.4,166.1 L585.7,171.8" class="g"/><path d="M578.1,184.0 L583.5,185.9 L582.9,192.5 L577.8,196.4 L575.0,193.6Z" fill="#fff" stroke="#222" stroke-width="1.300" stroke-linejoin="round"/><path d="M580.1,185.3 L579.6,193.6" class="k" style="stroke:#222;stroke-width:1.6"/><ellipse cx="575.2" cy="198.0" rx="2.600" ry="4" class="gw" style="stroke:#333" transform="rotate(25 575.2 198.0)"/><path d="M568.6,178.4 v5.500 a5.700,3.200 0 0 0 11.400,0 v-5.500" class="gw" style="stroke:#333"/><path d="M568.6,182.9 a5.700,3.200 0 0 0 11.400,0" class="k" style="stroke:#333"/><ellipse cx="574.3" cy="178.9" rx="5.700" ry="3.200" class="gw" style="stroke:#333;stroke-width:1.1"/><path d="M556.4,186.9 C557.3,186.4 559.7,184.5 561.5,184.1 C563.4,183.7 565.5,183.9 567.5,184.4 C569.6,184.9 572.1,186.3 573.7,187.2 C575.2,188.1 576.3,189.3 576.9,189.7" stroke="#222" stroke-width="2.200" fill="none"/><path d="M558.3,187.8 C559.1,187.5 561.2,186.2 562.8,185.9 C564.4,185.6 567.1,186.1 567.9,186.2" stroke="#777" stroke-width="1" fill="none"/><path d="M545.9,178.5 L552.0,181.3 L553.7,183.9 L555.7,186.4 L558.2,188.5 L560.8,190.1 L563.5,191.3 L566.1,191.9 L568.5,191.9 L570.5,191.4 L572.1,190.3 L578.2,193.1 L578.4,198.2 L576.3,198.6 L574.6,199.6 L573.5,201.1 L572.9,203.0 L573.0,205.2 L573.7,207.7 L575.0,210.1 L576.8,212.5 L579.0,214.6 L579.2,219.7 L572.9,217.5 L571.2,215.1 L569.0,212.9 L566.5,211.0 L563.8,209.5 L561.1,208.5 L558.4,208.1 L556.0,208.3 L553.9,209.0 L552.2,210.4 L545.9,208.2 L545.9,202.6 L548.1,201.9 L549.8,200.7 L551.0,198.9 L551.6,196.8 L551.6,194.4 L551.0,191.8 L549.8,189.1 L548.0,186.5 L545.9,184.1Z" fill="#222" stroke="#111" stroke-width="1.4" stroke-linejoin="round"/><path d="M544.3,178.2 L550.4,181.0 L552.1,183.6 L554.1,186.1 L556.6,188.2 L559.2,189.8 L561.9,191.0 L564.5,191.6 L566.9,191.6 L568.9,191.1 L570.5,190.0 L576.6,192.8 L576.8,197.9 L574.7,198.3 L573.0,199.3 L571.9,200.8 L571.3,202.7 L571.4,204.9 L572.1,207.4 L573.4,209.8 L575.2,212.2 L577.4,214.3 L577.6,219.4 L571.3,217.2 L569.6,214.8 L567.4,212.6 L564.9,210.7 L562.2,209.2 L559.5,208.2 L556.8,207.8 L554.4,208.0 L552.3,208.7 L550.6,210.1 L544.3,207.9 L544.3,202.3 L546.5,201.6 L548.2,200.4 L549.4,198.6 L550.0,196.5 L550.0,194.1 L549.4,191.5 L548.2,188.8 L546.4,186.2 L544.3,183.8Z" fill="#fff" stroke="#111" stroke-width="1.4" stroke-linejoin="round"/><path d="M568.1,202.5 L567.8,204.3 L566.8,205.6 L565.2,206.4 L563.1,206.5 L560.8,205.9 L558.5,204.7 L556.4,203.0 L554.8,201.0 L553.7,198.8 L553.3,196.6 L553.7,194.8 L554.7,193.4 L556.3,192.7 L558.3,192.6 L560.6,193.2 L562.9,194.5 L564.9,196.3 L566.6,198.3 L567.7,200.5Z" class="k" style="stroke:#666;stroke-width:0.8"/><path d="M567.3,202.2 L567.0,203.8 L566.1,204.9 L564.7,205.6 L562.8,205.7 L560.8,205.2 L558.8,204.2 L556.9,202.7 L555.4,200.8 L554.5,198.9 L554.1,197.0 L554.4,195.3 L555.4,194.1 L556.8,193.4 L558.6,193.4 L560.6,193.9 L562.6,195.1 L564.5,196.6 L565.9,198.4 L566.9,200.4Z" class="k" style="stroke:#3a3a3a;stroke-width:0.95"/><path d="M564.1,200.9 L564.0,201.8 L563.5,202.4 L562.8,202.8 L561.8,202.8 L560.8,202.5 L559.7,202.0 L558.7,201.2 L557.9,200.2 L557.4,199.2 L557.3,198.2 L557.4,197.3 L557.9,196.7 L558.6,196.4 L559.6,196.3 L560.6,196.6 L561.7,197.2 L562.7,198.0 L563.5,199.0 L564.0,200.0Z" class="k" style="stroke:#666;stroke-width:0.8"/><path d="M562.8,200.4 L562.7,200.9 L562.4,201.3 L562.0,201.5 L561.4,201.6 L560.7,201.4 L560.1,201.1 L559.5,200.6 L559.0,200.0 L558.7,199.3 L558.6,198.7 L558.7,198.2 L559.0,197.8 L559.4,197.6 L560.0,197.6 L560.7,197.7 L561.3,198.1 L561.9,198.6 L562.4,199.2 L562.7,199.8Z" class="k" style="stroke:#777;stroke-width:0.8"/><circle cx="550.0" cy="185.7" r="0.75" class="f" style="fill:#444"/><circle cx="571.1" cy="194.9" r="0.75" class="f" style="fill:#444"/><circle cx="571.6" cy="212.8" r="0.75" class="f" style="fill:#444"/><circle cx="550.1" cy="205.0" r="0.75" class="f" style="fill:#444"/><path d="M739.9,250.9 L743.1,249.8 L743.7,257.3 L753.2,261.0 L753.2,258.9 L759.6,261.0 L759.6,276.4 L753.2,278.0 L751.1,275.4 L746.9,277.5 L742.6,273.2 L744.7,266.9 L740.5,262.6Z" fill="#fff" stroke="#222" stroke-width="1.2" stroke-linejoin="round"/><path d="M739.9,250.9 L743.1,249.8 L743.7,257.3 L741.0,258.3Z" fill="#333" stroke="#222" stroke-width="1"/><path d="M753.2,261.0 L755.4,259.6 L759.6,261.0 L758.0,262.4Z" fill="#333" stroke="#222" stroke-width="1"/><path d="M744.2,257.8 L744.2,262.6 L753.2,265.8 L753.2,261.0Z" fill="#ddd" stroke="#444" stroke-width="0.8"/><path d="M747.4,259.6 L747.4,263.7 M750.1,260.7 L750.1,264.7 M755.4,262.6 L755.4,277.0" class="g"/><ellipse cx="758.4" cy="271.1" rx="1.800" ry="2.400" class="f" style="fill:#111"/><ellipse cx="760.5" cy="271.7" rx="1.600" ry="2.200" class="gw" style="stroke:#333"/><path d="M731.9,262.6 L741.5,258.9 L742.6,261.0 L734.1,265.3Z" class="gw" style="stroke:#333"/><ellipse cx="746.9" cy="273.2" rx="3" ry="3.400" class="gw" style="stroke:#333"/><path d="M719.2,250.9 C719.8,251.1 721.7,250.4 722.9,251.9 C724.1,253.5 724.6,258.3 726.6,260.5 C728.7,262.6 732.5,263.7 735.1,264.7 C737.8,265.8 741.2,266.0 742.6,266.9 C744.0,267.7 743.5,269.5 743.7,270.1" stroke="#111" stroke-width="2.400" fill="none"/><path d="M719.7,253.1 L724.4,256.4 L725.6,259.1 L727.2,261.6 L729.1,263.9 L731.1,265.8 L733.2,267.3 L735.1,268.3 L736.9,268.6 L738.4,268.3 L739.5,267.4 L744.2,270.7 L744.6,275.9 L743.1,276.1 L741.9,276.9 L741.1,278.3 L740.7,280.2 L740.9,282.4 L741.5,285.0 L742.6,287.7 L744.1,290.4 L745.9,293.1 L746.3,298.3 L741.2,294.7 L739.8,291.9 L738.0,289.3 L736.0,286.9 L733.9,284.8 L731.7,283.3 L729.6,282.3 L727.7,281.8 L726.1,282.0 L724.8,282.8 L719.7,279.2 L719.7,274.2 L721.4,274.2 L722.8,273.5 L723.7,272.2 L724.2,270.4 L724.1,268.3 L723.6,265.8 L722.7,263.2 L721.4,260.5 L719.7,258.1Z" fill="#222" stroke="#111" stroke-width="1.4" stroke-linejoin="round"/><path d="M718.1,252.8 L722.8,256.1 L724.0,258.8 L725.6,261.3 L727.5,263.6 L729.5,265.5 L731.6,267.0 L733.5,268.0 L735.3,268.3 L736.8,268.0 L737.9,267.1 L742.6,270.4 L743.0,275.6 L741.5,275.8 L740.3,276.6 L739.5,278.0 L739.1,279.9 L739.3,282.1 L739.9,284.7 L741.0,287.4 L742.5,290.1 L744.3,292.8 L744.7,298.0 L739.6,294.4 L738.2,291.6 L736.4,289.0 L734.4,286.6 L732.3,284.5 L730.1,283.0 L728.0,282.0 L726.1,281.5 L724.5,281.7 L723.2,282.5 L718.1,278.9 L718.1,273.9 L719.8,273.9 L721.2,273.2 L722.1,271.9 L722.6,270.1 L722.5,268.0 L722.0,265.5 L721.1,262.9 L719.8,260.2 L718.1,257.8Z" fill="#fff" stroke="#111" stroke-width="1.4" stroke-linejoin="round"/><path d="M736.6,279.2 L736.4,280.8 L735.7,282.0 L734.5,282.4 L732.9,282.1 L731.1,281.1 L729.3,279.5 L727.6,277.4 L726.3,275.2 L725.4,272.9 L725.1,270.9 L725.4,269.3 L726.1,268.2 L727.4,267.7 L728.9,268.0 L730.6,269.0 L732.4,270.5 L734.0,272.5 L735.3,274.8 L736.2,277.1Z" class="k" style="stroke:#666;stroke-width:0.8"/><path d="M736.0,278.7 L735.8,280.2 L735.2,281.2 L734.1,281.6 L732.7,281.3 L731.1,280.4 L729.5,279.0 L728.0,277.2 L726.8,275.2 L726.1,273.2 L725.8,271.4 L726.0,269.9 L726.7,268.9 L727.7,268.6 L729.1,268.8 L730.7,269.7 L732.2,271.0 L733.7,272.8 L734.8,274.8 L735.6,276.8Z" class="k" style="stroke:#3a3a3a;stroke-width:0.95"/><path d="M733.6,277.0 L733.5,277.7 L733.1,278.2 L732.6,278.4 L731.8,278.3 L731.0,277.8 L730.1,277.1 L729.4,276.2 L728.8,275.1 L728.4,274.1 L728.2,273.1 L728.3,272.3 L728.7,271.8 L729.2,271.6 L729.9,271.8 L730.8,272.2 L731.6,272.9 L732.4,273.9 L733.0,274.9 L733.4,276.0Z" class="k" style="stroke:#666;stroke-width:0.8"/><path d="M732.5,276.2 L732.5,276.7 L732.3,277.0 L731.9,277.1 L731.5,277.1 L730.9,276.8 L730.4,276.3 L729.9,275.7 L729.6,275.1 L729.3,274.4 L729.2,273.8 L729.3,273.4 L729.5,273.0 L729.8,272.9 L730.3,273.0 L730.8,273.3 L731.3,273.7 L731.8,274.3 L732.2,275.0 L732.4,275.6Z" class="k" style="stroke:#777;stroke-width:0.8"/><circle cx="722.4" cy="260.4" r="0.75" class="f" style="fill:#444"/><circle cx="738.6" cy="272.0" r="0.75" class="f" style="fill:#444"/><circle cx="739.8" cy="290.0" r="0.75" class="f" style="fill:#444"/><circle cx="722.7" cy="277.8" r="0.75" class="f" style="fill:#444"/><path d="M895.0,349.3 C895.4,349.5 896.1,349.5 897.3,350.5 C898.5,351.5 900.0,353.9 902.0,355.2 C904.0,356.5 907.7,356.5 909.0,358.1 C910.4,359.8 910.2,362.4 910.2,365.1 C910.2,367.9 910.0,372.5 909.0,374.5 C908.1,376.6 905.9,377.3 904.3,377.4 C902.8,377.5 900.8,376.4 899.7,375.1 C898.5,373.8 897.8,372.1 897.3,369.8 C896.8,367.6 897.7,364.1 896.7,361.6 C895.8,359.2 892.3,356.3 891.5,355.2Z" class="gw" style="stroke:#333;stroke-width:1.1"/><path d="M902.0,356.4 C902.9,356.8 906.3,357.6 907.3,359.3 C908.3,360.9 908.1,363.9 908.1,366.3 C908.1,368.8 908.0,372.3 907.3,373.9 C906.6,375.5 904.9,375.9 903.8,375.9 C902.6,375.9 901.1,375.1 900.2,373.9 C899.4,372.7 899.0,370.8 898.7,368.7 C898.5,366.5 898.2,363.1 898.7,361.0 C899.3,359.0 901.5,357.1 902.0,356.4" fill="#eee" stroke="#666" stroke-width="0.9"/><ellipse cx="906.7" cy="349.3" rx="2.300" ry="1.800" class="f" style="fill:#111"/><path d="M907.9,351.7 L910.8,356.4" stroke="#222" stroke-width="2.200" stroke-linecap="round" fill="none"/><path d="M905.5,351.1 L906.7,355.2" class="k"/><path d="M880.3,359.9 L880.3,368.7 L885.6,376.3 L897.3,373.3 L896.7,361.6Z" class="gw" style="stroke:#333;stroke-width:1.1"/><path d="M880.9,365.1 L896.1,364.0 M883.8,369.8 L883.8,375.1 M887.9,368.7 L887.9,375.1 M892.0,368.1 L892.0,374.3 M883.3,373.3 L896.1,370.4" class="k" style="stroke:#444"/><path d="M880.8,358.7 v4 a5.400,2.800 0 0 0 10.800,0 v-4" class="gw" style="stroke:#333"/><ellipse cx="886.2" cy="358.3" rx="5.400" ry="2.900" class="gw" style="stroke:#333;stroke-width:1.1"/><path d="M865.7,362.2 L871.5,361.0 L880.9,365.1 L880.9,376.9 L875.1,380.4 L871.5,376.9 L871.5,365.1Z" fill="#fff" stroke="#222" stroke-width="1.2" stroke-linejoin="round"/><path d="M872.7,365.1 L880.3,368.1 L880.3,374.5 L872.7,371.6Z" fill="#555" stroke="#222" stroke-width="0.8"/><ellipse cx="878.0" cy="377.4" rx="3" ry="3.200" class="gw" style="stroke:#333"/><path d="M855.1,350.5 C855.7,351.0 857.5,351.6 858.7,353.4 C859.8,355.3 860.8,359.9 862.2,361.6 C863.5,363.4 865.3,363.6 866.9,364.0 C868.4,364.4 870.8,364.0 871.5,364.0" stroke="#111" stroke-width="2.400" fill="none"/><path d="M856.6,350.4 L859.7,353.1 L860.5,355.8 L861.6,358.3 L862.9,360.6 L864.3,362.3 L865.7,363.6 L867.0,364.2 L868.2,364.1 L869.2,363.3 L869.9,361.8 L873.0,364.5 L873.5,370.9 L872.4,371.6 L871.7,373.0 L871.2,374.8 L871.0,377.2 L871.2,380.0 L871.7,382.9 L872.5,386.0 L873.6,389.1 L874.9,392.0 L875.4,398.4 L871.7,394.8 L870.7,391.7 L869.4,388.9 L867.9,386.3 L866.4,384.3 L864.8,382.8 L863.3,381.9 L861.9,381.7 L860.7,382.2 L859.8,383.3 L856.1,379.7 L856.2,374.1 L857.4,373.8 L858.4,372.9 L859.1,371.3 L859.5,369.2 L859.5,366.7 L859.1,363.9 L858.5,361.1 L857.6,358.4 L856.5,356.0Z" fill="#222" stroke="#111" stroke-width="1.4" stroke-linejoin="round"/><path d="M855.1,349.9 L858.2,352.6 L859.0,355.3 L860.1,357.8 L861.4,360.1 L862.8,361.8 L864.2,363.1 L865.5,363.7 L866.7,363.6 L867.7,362.8 L868.4,361.3 L871.5,364.0 L872.0,370.4 L870.9,371.1 L870.2,372.5 L869.7,374.3 L869.5,376.7 L869.7,379.5 L870.2,382.4 L871.0,385.5 L872.1,388.6 L873.4,391.5 L873.9,397.9 L870.2,394.3 L869.2,391.2 L867.9,388.4 L866.4,385.8 L864.9,383.8 L863.3,382.3 L861.8,381.4 L860.4,381.2 L859.2,381.7 L858.3,382.8 L854.6,379.2 L854.7,373.6 L855.9,373.3 L856.9,372.4 L857.6,370.8 L858.0,368.7 L858.0,366.2 L857.6,363.4 L857.0,360.6 L856.1,357.9 L855.0,355.5Z" fill="#fff" stroke="#111" stroke-width="1.4" stroke-linejoin="round"/><path d="M867.8,376.4 L867.7,378.5 L867.2,380.0 L866.4,380.8 L865.3,380.7 L864.0,379.9 L862.7,378.3 L861.5,376.2 L860.6,373.8 L860.0,371.4 L859.8,369.1 L859.9,367.1 L860.5,365.7 L861.3,364.9 L862.4,364.9 L863.6,365.6 L864.8,367.1 L865.9,369.1 L866.8,371.4 L867.5,374.0Z" class="k" style="stroke:#666;stroke-width:0.8"/><path d="M867.3,376.0 L867.3,377.9 L866.8,379.2 L866.1,379.9 L865.1,379.8 L864.0,379.1 L862.8,377.7 L861.8,375.8 L860.9,373.7 L860.4,371.5 L860.2,369.5 L860.4,367.7 L860.8,366.5 L861.6,365.8 L862.5,365.8 L863.6,366.4 L864.7,367.7 L865.7,369.5 L866.5,371.6 L867.1,373.9Z" class="k" style="stroke:#3a3a3a;stroke-width:0.95"/><path d="M865.6,374.5 L865.6,375.4 L865.4,376.1 L865.0,376.5 L864.5,376.5 L863.9,376.1 L863.3,375.4 L862.7,374.4 L862.3,373.3 L862.0,372.1 L861.9,371.0 L862.0,370.1 L862.2,369.4 L862.6,369.1 L863.1,369.1 L863.7,369.4 L864.2,370.1 L864.8,371.1 L865.2,372.2 L865.5,373.3Z" class="k" style="stroke:#666;stroke-width:0.8"/><path d="M864.9,373.8 L864.9,374.4 L864.8,374.8 L864.5,375.0 L864.2,375.0 L863.8,374.8 L863.5,374.4 L863.1,373.8 L862.9,373.1 L862.7,372.4 L862.6,371.7 L862.7,371.1 L862.8,370.7 L863.0,370.5 L863.4,370.5 L863.7,370.7 L864.1,371.1 L864.4,371.7 L864.7,372.4 L864.9,373.1Z" class="k" style="stroke:#777;stroke-width:0.8"/><circle cx="858.0" cy="357.5" r="0.75" class="f" style="fill:#444"/><circle cx="869.0" cy="367.2" r="0.75" class="f" style="fill:#444"/><circle cx="870.2" cy="389.0" r="0.75" class="f" style="fill:#444"/><circle cx="858.0" cy="377.4" r="0.75" class="f" style="fill:#444"/></g>
<circle cx="601.3" cy="423.6" r="97.6" class="p"/>
<g id="iso-dims">
<line x1="730.0" y1="382.5" x2="699.5" y2="409.0" class="p"/>
<line x1="722.0" y1="384.5" x2="690.0" y2="398.0" class="p"/>
<line x1="538.3" y1="452.2" x2="574.1" y2="433.0" class="c"/>
<path d="M537.1,428.5 Q521.3,439.7 530.9,450.8 L527.6,452.6 L536.8,459.2 L536.3,447.9 L533.0,449.7 Q524.7,437.8 537.1,428.5Z" fill="#fff" fill-opacity="0.6" stroke="#6f8fd0" stroke-width="0.9" stroke-linejoin="round"/>
<path d="M553.0,459.8 Q568.1,448.0 558.8,437.5 L562.1,435.6 L552.7,429.2 L553.4,440.6 L556.7,438.7 Q564.8,449.9 553.0,459.8Z" fill="#fff" fill-opacity="0.6" stroke="#6f8fd0" stroke-width="0.9" stroke-linejoin="round"/>
<text x="533.5" y="469.0" font-size="14.5" class="dt" transform="rotate(30 533.5 469.0)" textLength="31" lengthAdjust="spacing">360°</text>
<line x1="625.6" y1="418.9" x2="661.3" y2="439.4" class="c"/>
<path d="M649.2,420.9 Q631.5,435.7 650.5,451.5 Q637.5,435.4 649.2,420.9Z" fill="none" stroke="#6f8fd0" stroke-width="0.9" stroke-linejoin="round"/>
<path d="M669.6,417.7 Q676.4,425.6 670.6,436.8 L667.4,434.7 L665.4,446.8 L675.7,440.2 L672.6,438.1 Q679.6,427.7 669.6,417.7Z" fill="#fff" fill-opacity="0.6" stroke="#6f8fd0" stroke-width="0.9" stroke-linejoin="round"/>
<text x="638.3" y="475.8" font-size="15.5" class="dt" transform="rotate(-36 638.3 475.8)" textLength="33" lengthAdjust="spacing">180°</text>
<line x1="885.3" y1="334.0" x2="885.3" y2="353.5" class="c"/>
<path d="M868.7,327.0 Q867.5,318.8 876.2,317.4 L877.0,320.1 L884.2,313.9 L874.7,312.5 L875.5,315.2 Q866.6,315.4 868.7,327.0Z" fill="#fff" fill-opacity="0.6" stroke="#6f8fd0" stroke-width="0.9" stroke-linejoin="round"/>
<path d="M902.7,316.3 Q904.2,322.1 895.1,325.3 L894.5,322.5 L886.7,328.3 L896.2,330.3 L895.6,327.4 Q905.0,325.5 902.7,316.3Z" fill="#fff" fill-opacity="0.6" stroke="#6f8fd0" stroke-width="0.9" stroke-linejoin="round"/>
<text x="882.2" y="301.9" font-size="14.5" class="dt" transform="rotate(27 882.2 301.9)" textLength="27" lengthAdjust="spacing">180°</text>
<line x1="842.2" y1="388.1" x2="857.2" y2="382.0" class="c"/>
<path d="M825.1,380.5 Q811.4,391.4 826.4,402.6 Q816.4,391.2 825.1,380.5Z" fill="none" stroke="#6f8fd0" stroke-width="0.9" stroke-linejoin="round"/>
<path d="M840.1,403.1 Q851.4,392.9 843.5,388.2 L845.6,386.7 L837.1,381.3 L839.7,390.9 L841.8,389.4 Q848.9,394.8 840.1,403.1Z" fill="#fff" fill-opacity="0.6" stroke="#6f8fd0" stroke-width="0.9" stroke-linejoin="round"/>
<text x="835.9" y="412.3" font-size="14" class="dt" transform="rotate(32 835.9 412.3)" textLength="28" lengthAdjust="spacing">360°</text>
<path d="M900.2,400.1 Q889.8,394.6 896.7,386.8 L899.1,388.0 L900.2,377.5 L892.3,384.6 L894.7,385.8 Q886.6,393.0 900.2,400.1Z" fill="#fff" fill-opacity="0.6" stroke="#6f8fd0" stroke-width="0.9" stroke-linejoin="round"/>
<path d="M910.2,375.0 Q920.1,381.5 913.8,390.6 L911.7,389.0 L909.7,398.1 L917.8,393.6 L915.6,392.0 Q922.9,383.6 910.2,375.0Z" fill="#fff" fill-opacity="0.6" stroke="#6f8fd0" stroke-width="0.9" stroke-linejoin="round"/>
<text x="888.2" y="417.1" font-size="15" class="dt" transform="rotate(-24 888.2 417.1)" textLength="30" lengthAdjust="spacing">180°</text>
<path d="M759.6,370.0 Q751.5,378.8 760.1,388.1 Q754.7,378.7 759.6,370.0Z" fill="none" stroke="#6f8fd0" stroke-width="0.8" stroke-linejoin="round"/>
<path d="M767.1,371.3 Q773.5,378.9 768.1,387.1 Q776.7,378.7 767.1,371.3Z" fill="none" stroke="#6f8fd0" stroke-width="0.8" stroke-linejoin="round"/>
<line x1="750.1" y1="372.5" x2="762.6" y2="377.5" class="c"/>
<text x="753.1" y="399.6" font-size="7.5" class="dt" transform="rotate(-40 753.1 399.6)">180°</text>
<path d="M704.5,375.0 Q696.5,382.6 705.0,391.3 Q699.5,382.5 704.5,375.0Z" fill="none" stroke="#6f8fd0" stroke-width="0.8" stroke-linejoin="round"/>
<path d="M712.5,375.0 Q718.0,382.6 713.0,390.1 Q721.0,382.5 712.5,375.0Z" fill="none" stroke="#6f8fd0" stroke-width="0.8" stroke-linejoin="round"/>
<line x1="710.0" y1="382.5" x2="723.8" y2="377.0" class="c"/>
<text x="703.0" y="397.1" font-size="7" class="dt" transform="rotate(38 703.0 397.1)">360°</text>
<line x1="855.1" y1="382.7" x2="837.6" y2="393.3" class="c"/>
<line x1="879.7" y1="376.9" x2="892.6" y2="381.5" class="c"/>
</g>
</g>
</g>
</svg>
</body></html>
